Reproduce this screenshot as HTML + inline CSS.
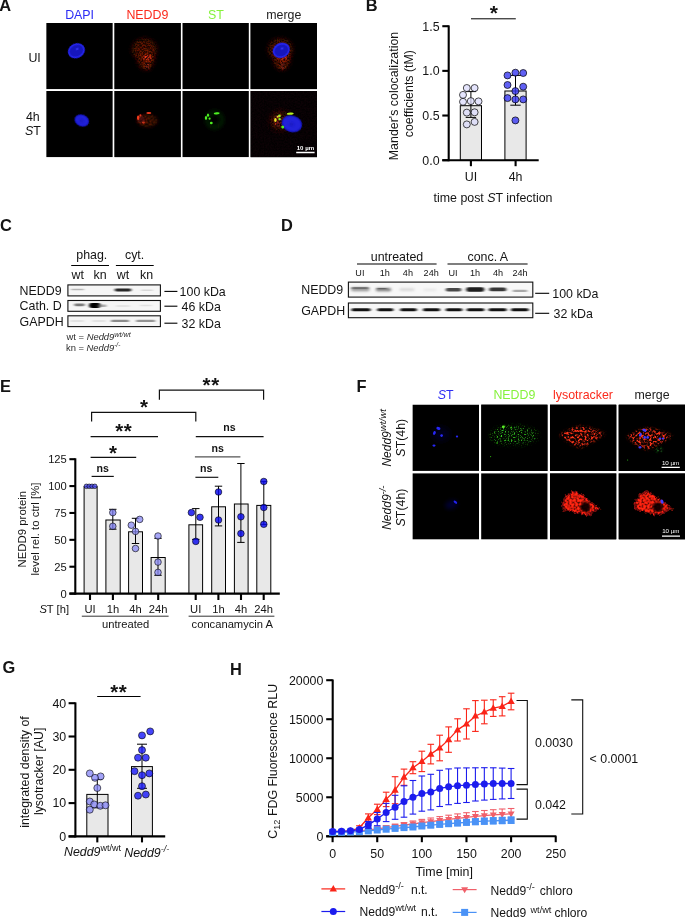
<!DOCTYPE html>
<html lang="en">
<head>
<meta charset="utf-8">
<title>Figure</title>
<style>
html,body{margin:0;padding:0;background:#fff;}
body{width:685px;height:918px;overflow:hidden;}
svg{display:block;font-family:"Liberation Sans",Arial,Helvetica,sans-serif;}
</style>
</head>
<body>
<svg width="685" height="918" viewBox="0 0 685 918">
<defs>
<filter id="b05" x="-30%" y="-30%" width="160%" height="160%"><feGaussianBlur stdDeviation="0.5"/></filter>
<filter id="b08" x="-30%" y="-30%" width="160%" height="160%"><feGaussianBlur stdDeviation="0.8"/></filter>
<filter id="b1" x="-40%" y="-40%" width="180%" height="180%"><feGaussianBlur stdDeviation="1.1"/></filter>
<filter id="b15" x="-40%" y="-40%" width="180%" height="180%"><feGaussianBlur stdDeviation="1.5"/></filter>
<filter id="b2" x="-50%" y="-50%" width="200%" height="200%"><feGaussianBlur stdDeviation="2"/></filter>
<filter id="b3" x="-60%" y="-60%" width="220%" height="220%"><feGaussianBlur stdDeviation="3.2"/></filter>
<filter id="b5" x="-80%" y="-80%" width="260%" height="260%"><feGaussianBlur stdDeviation="5"/></filter>
<filter id="bx" x="-20%" y="-120%" width="140%" height="340%"><feGaussianBlur stdDeviation="1.4 0.7"/></filter>
<filter id="bx2" x="-20%" y="-120%" width="140%" height="340%"><feGaussianBlur stdDeviation="1.7 1.0"/></filter>
<!-- fine grain: multiplies an opaque picture with contrast-stretched noise -->
<filter id="grain" x="0" y="0" width="100%" height="100%" color-interpolation-filters="sRGB">
  <feTurbulence type="fractalNoise" baseFrequency="0.62" numOctaves="2" seed="11" result="n"/>
  <feColorMatrix in="n" type="matrix" values="2.4 0 0 0 -0.7  2.4 0 0 0 -0.7  2.4 0 0 0 -0.7  0 0 0 0 1" result="m"/>
  <feComposite in="SourceGraphic" in2="m" operator="arithmetic" k1="1.5" k2="0.25" k3="0" k4="0" result="c"/>
  <feGaussianBlur in="c" stdDeviation="0.45"/>
</filter>
<!-- coarser grain: reticulated look -->
<filter id="grain2" x="0" y="0" width="100%" height="100%" color-interpolation-filters="sRGB">
  <feTurbulence type="fractalNoise" baseFrequency="0.46" numOctaves="2" seed="5" result="n"/>
  <feColorMatrix in="n" type="matrix" values="3.4 0 0 0 -1.5  3.4 0 0 0 -1.5  3.4 0 0 0 -1.5  0 0 0 0 1" result="m"/>
  <feComposite in="SourceGraphic" in2="m" operator="arithmetic" k1="1.9" k2="0.12" k3="0" k4="0" result="c"/>
  <feGaussianBlur in="c" stdDeviation="0.5"/>
</filter>
<!-- light grain -->
<filter id="grain3" x="0" y="0" width="100%" height="100%" color-interpolation-filters="sRGB">
  <feTurbulence type="fractalNoise" baseFrequency="0.5" numOctaves="2" seed="23" result="n"/>
  <feColorMatrix in="n" type="matrix" values="1.6 0 0 0 -0.3  1.6 0 0 0 -0.3  1.6 0 0 0 -0.3  0 0 0 0 1" result="m"/>
  <feComposite in="SourceGraphic" in2="m" operator="arithmetic" k1="1.5" k2="0.25" k3="0" k4="0" result="c"/>
  <feGaussianBlur in="c" stdDeviation="0.3"/>
</filter>
<!-- sparse specks -->
<filter id="grain4" x="0" y="0" width="100%" height="100%" color-interpolation-filters="sRGB">
  <feTurbulence type="fractalNoise" baseFrequency="0.7" numOctaves="2" seed="31" result="n"/>
  <feColorMatrix in="n" type="matrix" values="5 0 0 0 -2.62  5 0 0 0 -2.62  5 0 0 0 -2.62  0 0 0 0 1" result="m"/>
  <feComposite in="SourceGraphic" in2="m" operator="arithmetic" k1="1.9" k2="0.1" k3="0" k4="0" result="c"/>
  <feGaussianBlur in="c" stdDeviation="0.4"/>
</filter>
<!-- ragged edges -->
<filter id="rough" x="-30%" y="-30%" width="160%" height="160%">
  <feTurbulence type="fractalNoise" baseFrequency="0.28" numOctaves="2" seed="4" result="n"/>
  <feDisplacementMap in="SourceGraphic" in2="n" scale="7" xChannelSelector="R" yChannelSelector="G" result="d"/>
  <feGaussianBlur in="d" stdDeviation="0.7"/>
</filter>
</defs>

<rect x="0" y="0" width="685" height="918" fill="#ffffff"/>
<text x="-0.80" y="10.80" font-size="16.4" fill="#141414" font-weight="bold">A</text>
<text x="365.80" y="11.40" font-size="16.4" fill="#141414" font-weight="bold">B</text>
<text x="0.00" y="230.60" font-size="16.4" fill="#141414" font-weight="bold">C</text>
<text x="280.90" y="230.50" font-size="16.4" fill="#141414" font-weight="bold">D</text>
<text x="0.00" y="391.50" font-size="16.4" fill="#141414" font-weight="bold">E</text>
<text x="356.60" y="391.50" font-size="16.4" fill="#141414" font-weight="bold">F</text>
<text x="2.50" y="672.90" font-size="16.4" fill="#141414" font-weight="bold">G</text>
<text x="229.90" y="674.90" font-size="16.4" fill="#141414" font-weight="bold">H</text>
<g id="panelA">
<text x="79.60" y="19.20" font-size="12.4" text-anchor="middle" fill="#2b2bf5">DAPI</text>
<text x="147.40" y="19.20" font-size="12.4" text-anchor="middle" fill="#fb2a1c">NEDD9</text>
<text x="215.80" y="19.20" font-size="12.4" text-anchor="middle" fill="#86f23c">ST</text>
<text x="283.80" y="19.20" font-size="12.4" text-anchor="middle" fill="#222">merge</text>
<text x="40.80" y="61.70" font-size="12.4" text-anchor="end" fill="#141414">UI</text>
<text x="39.70" y="120.70" font-size="12.4" text-anchor="end" fill="#141414">4h</text>
<text x="40.80" y="134.70" font-size="12.4" text-anchor="end" fill="#141414"><tspan font-style="italic">S</tspan>T</text>
<clipPath id="cl1"><rect x="46.20" y="22.90" width="66.60" height="66.40"/></clipPath>
<g clip-path="url(#cl1)">
<rect x="46.20" y="22.90" width="66.60" height="66.40" fill="#000" />
<ellipse cx="76.40" cy="50.80" rx="8.7" ry="7.3" fill="#1515bc" transform="rotate(-25 76.40 50.80)" filter="url(#b05)"/>
<ellipse cx="76.40" cy="50.80" rx="7.799999999999999" ry="6.3999999999999995" fill="none" stroke="#2828f4" stroke-width="1.3" transform="rotate(-25 76.40 50.80)" filter="url(#b05)"/>
<ellipse cx="77.20" cy="49.00" rx="1.6" ry="1.0" fill="#3a3aff" transform="rotate(-25 77.20 49.00)" filter="url(#b05)" opacity="0.8"/>
</g>
<clipPath id="cl2"><rect x="114.30" y="22.90" width="66.60" height="66.40"/></clipPath>
<g clip-path="url(#cl2)">
<g filter="url(#grain)">
<rect x="114.30" y="22.90" width="66.60" height="66.40" fill="#000" />
<ellipse cx="144.40" cy="49.50" rx="12.5" ry="11.0" fill="#3a0b05" filter="url(#b2)"/>
<ellipse cx="145.80" cy="59.00" rx="8.5" ry="11.0" fill="#420d06" filter="url(#b2)"/>
<ellipse cx="147.40" cy="57.50" rx="5.0" ry="2.6" fill="#9a200e" filter="url(#b15)"/>
<ellipse cx="146.90" cy="65.50" rx="2.6" ry="4.0" fill="#5a140a" filter="url(#b15)"/>
</g>
</g>
<clipPath id="cl3"><rect x="182.30" y="22.90" width="66.60" height="66.40"/></clipPath>
<g clip-path="url(#cl3)">
<rect x="182.30" y="22.90" width="66.60" height="66.40" fill="#000" />
</g>
<clipPath id="cl4"><rect x="250.40" y="22.90" width="66.60" height="66.40"/></clipPath>
<g clip-path="url(#cl4)">
<g filter="url(#grain)">
<rect x="250.40" y="22.90" width="66.60" height="66.40" fill="#000" />
<ellipse cx="280.40" cy="49.50" rx="12.5" ry="11.0" fill="#3a0b05" filter="url(#b2)"/>
<ellipse cx="281.80" cy="59.00" rx="8.5" ry="11.0" fill="#420d06" filter="url(#b2)"/>
<ellipse cx="283.40" cy="57.50" rx="5.0" ry="2.6" fill="#9a200e" filter="url(#b15)"/>
<ellipse cx="282.90" cy="65.50" rx="2.6" ry="4.0" fill="#5a140a" filter="url(#b15)"/>
</g>
<ellipse cx="281.30" cy="50.40" rx="8.7" ry="7.3" fill="#1515bc" transform="rotate(-25 281.30 50.40)" filter="url(#b05)"/>
<ellipse cx="281.30" cy="50.40" rx="7.799999999999999" ry="6.3999999999999995" fill="none" stroke="#2828f4" stroke-width="1.3" transform="rotate(-25 281.30 50.40)" filter="url(#b05)"/>
<ellipse cx="282.10" cy="48.60" rx="1.6" ry="1.0" fill="#3a3aff" transform="rotate(-25 282.10 48.60)" filter="url(#b05)" opacity="0.8"/>
</g>
<clipPath id="cl5"><rect x="46.20" y="90.90" width="66.60" height="66.40"/></clipPath>
<g clip-path="url(#cl5)">
<rect x="46.20" y="90.90" width="66.60" height="66.40" fill="#000" />
<ellipse cx="81.80" cy="120.50" rx="7.5" ry="6.1" fill="#1515bc" transform="rotate(22 81.80 120.50)" filter="url(#b05)"/>
<ellipse cx="81.80" cy="120.50" rx="6.2" ry="4.8" fill="#2020d8" transform="rotate(22 81.80 120.50)" filter="url(#b05)"/>
<ellipse cx="81.30" cy="120.90" rx="2.4" ry="1.6" fill="#1a1ab8" transform="rotate(22 81.30 120.90)" filter="url(#b08)" opacity="0.8"/>
</g>
<clipPath id="cl6"><rect x="114.30" y="90.90" width="66.60" height="66.40"/></clipPath>
<g clip-path="url(#cl6)">
<g filter="url(#grain3)">
<rect x="114.30" y="90.90" width="66.60" height="66.40" fill="#000" />
<ellipse cx="147.40" cy="120.60" rx="10.5" ry="6.6" fill="#300a06" filter="url(#b15)"/>
<ellipse cx="141.50" cy="119.50" rx="4.0" ry="3.6" fill="#4c100a" filter="url(#b15)"/>
</g>
<g filter="url(#b05)">
<ellipse cx="138.20" cy="117.80" rx="1.3" ry="2.3" fill="#f03a1c" />
<ellipse cx="140.40" cy="115.40" rx="1.1" ry="1.1" fill="#e0341a" />
<ellipse cx="148.80" cy="112.90" rx="2.5" ry="1.0" fill="#f23c1e" />
<ellipse cx="143.40" cy="122.60" rx="1.5" ry="1.1" fill="#c83018" />
</g>
</g>
<clipPath id="cl7"><rect x="182.30" y="90.90" width="66.60" height="66.40"/></clipPath>
<g clip-path="url(#cl7)">
<rect x="182.30" y="90.90" width="66.60" height="66.40" fill="#000" />
<circle cx="214.6" cy="119.8" r="7.5" fill="none" stroke="#092a05" stroke-width="3.0" filter="url(#b2)"/>
<g filter="url(#b05)">
<ellipse cx="216.70" cy="113.30" rx="3.0" ry="1.1" fill="#4ef020" transform="rotate(-5 216.70 113.30)" />
<ellipse cx="208.00" cy="115.20" rx="1.1" ry="1.6" fill="#4ef020" />
<ellipse cx="206.00" cy="117.90" rx="1.2" ry="1.9" fill="#4ef020" />
<ellipse cx="209.60" cy="118.60" rx="1.0" ry="1.2" fill="#4ef020" />
<ellipse cx="211.30" cy="123.00" rx="1.4" ry="1.3" fill="#4ef020" />
</g>
</g>
<clipPath id="cl8"><rect x="250.40" y="90.90" width="66.60" height="66.40"/></clipPath>
<g clip-path="url(#cl8)">
<g filter="url(#grain)">
<rect x="250.40" y="90.90" width="66.60" height="66.40" fill="#000" />
<rect x="250.40" y="90.90" width="66.60" height="66.40" fill="#070103" />
<ellipse cx="281.00" cy="121.00" rx="11" ry="10" fill="#2a0805" filter="url(#b3)"/>
<ellipse cx="278.00" cy="120.50" rx="5" ry="7" fill="#4a1008" filter="url(#b2)"/>
</g>
<ellipse cx="291.90" cy="123.80" rx="10.5" ry="8.4" fill="#1515bc" transform="rotate(18 291.90 123.80)" filter="url(#b05)"/>
<ellipse cx="291.90" cy="123.80" rx="9.2" ry="7.1000000000000005" fill="#2020d8" transform="rotate(18 291.90 123.80)" filter="url(#b05)"/>
<ellipse cx="291.40" cy="124.20" rx="2.4" ry="1.6" fill="#1a1ab8" transform="rotate(18 291.40 124.20)" filter="url(#b08)" opacity="0.8"/>
<g filter="url(#b05)">
<ellipse cx="290.30" cy="113.70" rx="3.4" ry="1.1" fill="#b4f020" transform="rotate(-3 290.30 113.70)" />
<ellipse cx="275.40" cy="119.90" rx="1.3" ry="2.0" fill="#f0e020" />
<ellipse cx="279.40" cy="115.90" rx="1.4" ry="1.4" fill="#a0e828" />
<ellipse cx="277.60" cy="116.80" rx="1.0" ry="1.0" fill="#e8d020" />
<ellipse cx="279.60" cy="119.20" rx="1.3" ry="1.1" fill="#80f028" />
<ellipse cx="282.70" cy="127.10" rx="1.5" ry="1.5" fill="#50f020" />
<ellipse cx="275.40" cy="124.00" rx="0.8" ry="0.8" fill="#e03018" />
</g>
<line x1="296.20" y1="152.50" x2="314.60" y2="152.50" stroke="#fff" stroke-width="1.3" />
<text x="305.40" y="149.70" font-size="6.1" text-anchor="middle" fill="#fff" font-weight="bold">10 µm</text>
</g>
</g>
<g id="panelB">
<rect x="460.30" y="105.70" width="21.20" height="54.50" fill="#e8e8e8" stroke="#000" stroke-width="1.0" />
<rect x="504.90" y="91.00" width="21.20" height="69.20" fill="#e8e8e8" stroke="#000" stroke-width="1.0" />
<line x1="448.70" y1="25.40" x2="448.70" y2="161.25" stroke="#000" stroke-width="2.1" />
<line x1="442.30" y1="160.20" x2="538.70" y2="160.20" stroke="#000" stroke-width="2.1" />
<line x1="442.30" y1="160.20" x2="448.70" y2="160.20" stroke="#000" stroke-width="2.1" />
<text x="439.60" y="164.50" font-size="12.4" text-anchor="end" fill="#141414">0.0</text>
<line x1="442.30" y1="115.53" x2="448.70" y2="115.53" stroke="#000" stroke-width="2.1" />
<text x="439.60" y="119.83" font-size="12.4" text-anchor="end" fill="#141414">0.5</text>
<line x1="442.30" y1="70.87" x2="448.70" y2="70.87" stroke="#000" stroke-width="2.1" />
<text x="439.60" y="75.17" font-size="12.4" text-anchor="end" fill="#141414">1.0</text>
<line x1="442.30" y1="26.20" x2="448.70" y2="26.20" stroke="#000" stroke-width="2.1" />
<text x="439.60" y="30.50" font-size="12.4" text-anchor="end" fill="#141414">1.5</text>
<line x1="470.90" y1="160.20" x2="470.90" y2="166.20" stroke="#000" stroke-width="2.1" />
<text x="470.90" y="180.50" font-size="12.4" text-anchor="middle" fill="#141414">UI</text>
<line x1="515.60" y1="160.20" x2="515.60" y2="166.20" stroke="#000" stroke-width="2.1" />
<text x="515.60" y="180.50" font-size="12.4" text-anchor="middle" fill="#141414">4h</text>
<text x="493.00" y="202.00" font-size="12.4" text-anchor="middle" fill="#141414">time post <tspan font-style="italic">S</tspan>T infection</text>
<text x="398.40" y="96.00" font-size="12.4" text-anchor="middle" fill="#141414" transform="rotate(-90 398.40 96.00)">Mander's colocalization</text>
<text x="413.20" y="93.60" font-size="12.4" text-anchor="middle" fill="#141414" transform="rotate(-90 413.20 93.60)">coefficients (tM)</text>
<line x1="470.90" y1="91.60" x2="470.90" y2="117.40" stroke="#000" stroke-width="1.0" />
<line x1="465.70" y1="91.60" x2="476.10" y2="91.60" stroke="#000" stroke-width="1.0" />
<line x1="465.70" y1="117.40" x2="476.10" y2="117.40" stroke="#000" stroke-width="1.0" />
<line x1="515.50" y1="75.40" x2="515.50" y2="105.20" stroke="#000" stroke-width="1.0" />
<line x1="510.30" y1="75.40" x2="520.70" y2="75.40" stroke="#000" stroke-width="1.0" />
<line x1="510.30" y1="105.20" x2="520.70" y2="105.20" stroke="#000" stroke-width="1.0" />
<circle cx="466.80" cy="88.00" r="3.5" fill="#dbdbfb" stroke="#000" stroke-width="0.7" fill-opacity="0.75"/>
<circle cx="474.60" cy="88.00" r="3.5" fill="#dbdbfb" stroke="#000" stroke-width="0.7" fill-opacity="0.75"/>
<circle cx="463.00" cy="94.90" r="3.5" fill="#dbdbfb" stroke="#000" stroke-width="0.7" fill-opacity="0.75"/>
<circle cx="463.00" cy="101.80" r="3.5" fill="#dbdbfb" stroke="#000" stroke-width="0.7" fill-opacity="0.75"/>
<circle cx="470.80" cy="101.10" r="3.5" fill="#dbdbfb" stroke="#000" stroke-width="0.7" fill-opacity="0.75"/>
<circle cx="478.50" cy="101.40" r="3.5" fill="#dbdbfb" stroke="#000" stroke-width="0.7" fill-opacity="0.75"/>
<circle cx="466.80" cy="112.60" r="3.5" fill="#dbdbfb" stroke="#000" stroke-width="0.7" fill-opacity="0.75"/>
<circle cx="474.60" cy="112.30" r="3.5" fill="#dbdbfb" stroke="#000" stroke-width="0.7" fill-opacity="0.75"/>
<circle cx="474.60" cy="121.90" r="3.5" fill="#dbdbfb" stroke="#000" stroke-width="0.7" fill-opacity="0.75"/>
<circle cx="466.80" cy="124.40" r="3.5" fill="#dbdbfb" stroke="#000" stroke-width="0.7" fill-opacity="0.75"/>
<circle cx="507.50" cy="75.40" r="3.5" fill="#3838f1" stroke="#000" stroke-width="0.7" fill-opacity="0.8"/>
<circle cx="515.40" cy="72.70" r="3.5" fill="#3838f1" stroke="#000" stroke-width="0.7" fill-opacity="0.8"/>
<circle cx="523.20" cy="73.00" r="3.5" fill="#3838f1" stroke="#000" stroke-width="0.7" fill-opacity="0.8"/>
<circle cx="507.50" cy="85.00" r="3.5" fill="#3838f1" stroke="#000" stroke-width="0.7" fill-opacity="0.8"/>
<circle cx="523.20" cy="86.70" r="3.5" fill="#3838f1" stroke="#000" stroke-width="0.7" fill-opacity="0.8"/>
<circle cx="515.40" cy="91.10" r="3.5" fill="#3838f1" stroke="#000" stroke-width="0.7" fill-opacity="0.8"/>
<circle cx="507.50" cy="98.10" r="3.5" fill="#3838f1" stroke="#000" stroke-width="0.7" fill-opacity="0.8"/>
<circle cx="515.40" cy="99.40" r="3.5" fill="#3838f1" stroke="#000" stroke-width="0.7" fill-opacity="0.8"/>
<circle cx="523.20" cy="99.40" r="3.5" fill="#3838f1" stroke="#000" stroke-width="0.7" fill-opacity="0.8"/>
<circle cx="515.40" cy="120.40" r="3.5" fill="#3838f1" stroke="#000" stroke-width="0.7" fill-opacity="0.8"/>
<line x1="471.00" y1="18.80" x2="515.80" y2="18.80" stroke="#000" stroke-width="1.0" />
<text x="493.80" y="20.40" font-size="21" text-anchor="middle" fill="#141414" font-weight="bold">*</text>
</g>
<g id="panelC">
<text x="91.80" y="259.00" font-size="12.4" text-anchor="middle" fill="#141414">phag.</text>
<text x="134.60" y="259.00" font-size="12.4" text-anchor="middle" fill="#141414">cyt.</text>
<line x1="71.20" y1="265.50" x2="109.00" y2="265.50" stroke="#000" stroke-width="1.2" />
<line x1="115.90" y1="265.50" x2="153.70" y2="265.50" stroke="#000" stroke-width="1.2" />
<text x="77.80" y="279.00" font-size="12.4" text-anchor="middle" fill="#141414">wt</text>
<text x="100.10" y="279.00" font-size="12.4" text-anchor="middle" fill="#141414">kn</text>
<text x="122.90" y="279.00" font-size="12.4" text-anchor="middle" fill="#141414">wt</text>
<text x="146.60" y="279.00" font-size="12.4" text-anchor="middle" fill="#141414">kn</text>
<text x="19.60" y="294.70" font-size="12.4" fill="#141414">NEDD9</text>
<text x="19.60" y="310.00" font-size="12.4" fill="#141414">Cath. D</text>
<text x="19.60" y="325.80" font-size="12.4" fill="#141414">GAPDH</text>
<rect x="67.90" y="284.90" width="92.50" height="11.00" fill="#f6f6f6" stroke="#111" stroke-width="1.1" />
<rect x="67.90" y="300.50" width="92.50" height="10.80" fill="#f6f6f6" stroke="#111" stroke-width="1.1" />
<rect x="67.90" y="315.80" width="92.50" height="10.80" fill="#f6f6f6" stroke="#111" stroke-width="1.1" />
<rect x="71.00" y="288.70" width="13.00" height="1.60" rx="0.80" fill="#9a9a9a" opacity="0.7" filter="url(#bx)"/>
<rect x="114.75" y="288.60" width="16.50" height="2.80" rx="1.40" fill="#1c1c1c" opacity="0.95" filter="url(#bx)"/>
<rect x="141.00" y="289.50" width="12.00" height="1.40" rx="0.70" fill="#bbb" opacity="0.5" filter="url(#bx)"/>
<rect x="74.25" y="303.40" width="10.50" height="2.80" rx="1.40" fill="#5a5a5a" opacity="0.8" filter="url(#bx)"/>
<rect x="89.05" y="303.10" width="11.50" height="4.80" rx="2.40" fill="#000" opacity="1.0" filter="url(#bx)"/>
<rect x="97.50" y="304.60" width="9.00" height="2.40" rx="1.20" fill="#777" opacity="0.6" filter="url(#bx)"/>
<rect x="116.00" y="305.25" width="14.00" height="1.50" rx="0.75" fill="#ccc" opacity="0.5" filter="url(#bx)"/>
<rect x="140.00" y="304.75" width="12.00" height="1.50" rx="0.75" fill="#ccc" opacity="0.5" filter="url(#bx)"/>
<rect x="70.00" y="320.35" width="14.00" height="1.30" rx="0.65" fill="#c4c4c4" opacity="0.5" filter="url(#bx)"/>
<rect x="92.00" y="320.35" width="14.00" height="1.30" rx="0.65" fill="#c4c4c4" opacity="0.5" filter="url(#bx)"/>
<rect x="111.00" y="319.70" width="18.00" height="2.40" rx="1.20" fill="#787878" opacity="0.85" filter="url(#bx)"/>
<rect x="136.10" y="319.70" width="19.00" height="2.40" rx="1.20" fill="#828282" opacity="0.85" filter="url(#bx)"/>
<line x1="164.40" y1="291.40" x2="177.40" y2="291.40" stroke="#000" stroke-width="1.1" />
<text x="179.60" y="295.80" font-size="12.4" fill="#141414">100 kDa</text>
<line x1="164.40" y1="306.20" x2="177.40" y2="306.20" stroke="#000" stroke-width="1.1" />
<text x="181.60" y="310.60" font-size="12.4" fill="#141414">46 kDa</text>
<line x1="164.40" y1="323.20" x2="177.40" y2="323.20" stroke="#000" stroke-width="1.1" />
<text x="181.60" y="328.20" font-size="12.4" fill="#141414">32 kDa</text>
<text x="66.60" y="340.40" font-size="9.4" fill="#2a2a2a">wt = <tspan font-style="italic">Nedd9</tspan><tspan font-size="7.2" dy="-3.4" font-style="italic">wt/wt</tspan></text>
<text x="66.00" y="350.60" font-size="9.4" fill="#2a2a2a">kn = <tspan font-style="italic">Nedd9</tspan><tspan font-size="6.4" dy="-3.4" font-style="italic">-/-</tspan></text>
</g>
<g id="panelD">
<text x="397.00" y="260.60" font-size="12.4" text-anchor="middle" fill="#141414">untreated</text>
<text x="487.80" y="260.60" font-size="12.4" text-anchor="middle" fill="#141414">conc. A</text>
<line x1="357.00" y1="264.00" x2="436.60" y2="264.00" stroke="#000" stroke-width="1.2" />
<line x1="447.50" y1="264.00" x2="527.60" y2="264.00" stroke="#000" stroke-width="1.2" />
<text x="359.90" y="276.30" font-size="9.1" text-anchor="middle" fill="#141414">UI</text>
<text x="384.70" y="276.30" font-size="9.1" text-anchor="middle" fill="#141414">1h</text>
<text x="407.90" y="276.30" font-size="9.1" text-anchor="middle" fill="#141414">4h</text>
<text x="431.20" y="276.30" font-size="9.1" text-anchor="middle" fill="#141414">24h</text>
<text x="453.00" y="276.30" font-size="9.1" text-anchor="middle" fill="#141414">UI</text>
<text x="475.00" y="276.30" font-size="9.1" text-anchor="middle" fill="#141414">1h</text>
<text x="498.10" y="276.30" font-size="9.1" text-anchor="middle" fill="#141414">4h</text>
<text x="520.10" y="276.30" font-size="9.1" text-anchor="middle" fill="#141414">24h</text>
<text x="301.20" y="294.00" font-size="12.4" fill="#141414">NEDD9</text>
<text x="301.20" y="315.10" font-size="12.4" fill="#141414">GAPDH</text>
<rect x="348.40" y="282.10" width="184.40" height="15.00" fill="#f7f7f7" stroke="#111" stroke-width="1.1" />
<rect x="348.40" y="303.00" width="184.40" height="14.70" fill="#f7f7f7" stroke="#111" stroke-width="1.1" />
<rect x="351.05" y="287.30" width="18.50" height="4.00" rx="2.00" fill="#8a8a8a" opacity="0.85" filter="url(#bx2)"/>
<rect x="351.50" y="287.25" width="17.00" height="1.50" rx="0.75" fill="#4a4a4a" opacity="0.8" filter="url(#bx)"/>
<rect x="375.75" y="287.90" width="15.50" height="3.40" rx="1.70" fill="#6a6a6a" opacity="0.85" filter="url(#bx2)"/>
<rect x="377.00" y="287.90" width="10.00" height="1.40" rx="0.70" fill="#444" opacity="0.7" filter="url(#bx)"/>
<rect x="399.50" y="288.30" width="15.00" height="2.60" rx="1.30" fill="#c4c4c4" opacity="0.6" filter="url(#bx2)"/>
<rect x="423.50" y="288.70" width="13.00" height="2.20" rx="1.10" fill="#d4d4d4" opacity="0.5" filter="url(#bx2)"/>
<rect x="445.75" y="288.00" width="15.50" height="3.60" rx="1.80" fill="#3a3a3a" opacity="0.92" filter="url(#bx)"/>
<rect x="466.20" y="287.30" width="18.00" height="4.40" rx="2.20" fill="#141414" opacity="0.97" filter="url(#bx)"/>
<rect x="489.30" y="287.50" width="17.00" height="3.80" rx="1.90" fill="#2a2a2a" opacity="0.93" filter="url(#bx)"/>
<rect x="512.75" y="289.80" width="14.50" height="2.20" rx="1.10" fill="#8e8e8e" opacity="0.75" filter="url(#bx)"/>
<rect x="351.50" y="308.20" width="19.00" height="3.00" rx="1.50" fill="#0a0a0a" opacity="0.98" filter="url(#bx)"/>
<rect x="377.30" y="308.20" width="16.00" height="3.00" rx="1.50" fill="#0a0a0a" opacity="0.98" filter="url(#bx)"/>
<rect x="400.25" y="308.20" width="16.50" height="3.00" rx="1.50" fill="#0a0a0a" opacity="0.98" filter="url(#bx)"/>
<rect x="423.00" y="308.20" width="17.00" height="3.00" rx="1.50" fill="#0a0a0a" opacity="0.98" filter="url(#bx)"/>
<rect x="445.75" y="308.20" width="16.50" height="3.00" rx="1.50" fill="#0a0a0a" opacity="0.98" filter="url(#bx)"/>
<rect x="466.75" y="308.20" width="17.50" height="3.00" rx="1.50" fill="#0a0a0a" opacity="0.98" filter="url(#bx)"/>
<rect x="488.60" y="308.20" width="18.00" height="3.00" rx="1.50" fill="#0a0a0a" opacity="0.98" filter="url(#bx)"/>
<rect x="511.05" y="308.20" width="17.50" height="3.00" rx="1.50" fill="#0a0a0a" opacity="0.98" filter="url(#bx)"/>
<line x1="535.20" y1="293.30" x2="549.20" y2="293.30" stroke="#000" stroke-width="1.1" />
<text x="552.30" y="297.70" font-size="12.4" fill="#141414">100 kDa</text>
<line x1="535.20" y1="313.30" x2="549.20" y2="313.30" stroke="#000" stroke-width="1.1" />
<text x="553.60" y="317.70" font-size="12.4" fill="#141414">32 kDa</text>
</g>
<g id="panelE">
<rect x="84.10" y="486.70" width="13.00" height="106.90" fill="#e8e8e8" stroke="#000" stroke-width="1.0" />
<rect x="105.90" y="520.00" width="14.30" height="73.60" fill="#e8e8e8" stroke="#000" stroke-width="1.0" />
<rect x="128.60" y="531.80" width="13.90" height="61.80" fill="#e8e8e8" stroke="#000" stroke-width="1.0" />
<rect x="151.10" y="557.50" width="14.10" height="36.10" fill="#e8e8e8" stroke="#000" stroke-width="1.0" />
<rect x="188.90" y="524.80" width="13.70" height="68.80" fill="#e8e8e8" stroke="#000" stroke-width="1.0" />
<rect x="211.70" y="506.80" width="13.80" height="86.80" fill="#e8e8e8" stroke="#000" stroke-width="1.0" />
<rect x="234.40" y="504.00" width="13.70" height="89.60" fill="#e8e8e8" stroke="#000" stroke-width="1.0" />
<rect x="256.80" y="505.40" width="14.00" height="88.20" fill="#e8e8e8" stroke="#000" stroke-width="1.0" />
<line x1="75.30" y1="458.30" x2="75.30" y2="594.65" stroke="#000" stroke-width="2.1" />
<line x1="69.40" y1="593.60" x2="279.80" y2="593.60" stroke="#000" stroke-width="2.1" />
<line x1="69.40" y1="593.60" x2="75.30" y2="593.60" stroke="#000" stroke-width="2.1" />
<text x="66.80" y="597.50" font-size="11.2" text-anchor="end" fill="#141414">0</text>
<line x1="69.40" y1="566.72" x2="75.30" y2="566.72" stroke="#000" stroke-width="2.1" />
<text x="66.80" y="570.62" font-size="11.2" text-anchor="end" fill="#141414">25</text>
<line x1="69.40" y1="539.84" x2="75.30" y2="539.84" stroke="#000" stroke-width="2.1" />
<text x="66.80" y="543.74" font-size="11.2" text-anchor="end" fill="#141414">50</text>
<line x1="69.40" y1="512.96" x2="75.30" y2="512.96" stroke="#000" stroke-width="2.1" />
<text x="66.80" y="516.86" font-size="11.2" text-anchor="end" fill="#141414">75</text>
<line x1="69.40" y1="486.08" x2="75.30" y2="486.08" stroke="#000" stroke-width="2.1" />
<text x="66.80" y="489.98" font-size="11.2" text-anchor="end" fill="#141414">100</text>
<line x1="69.40" y1="459.20" x2="75.30" y2="459.20" stroke="#000" stroke-width="2.1" />
<text x="66.80" y="463.10" font-size="11.2" text-anchor="end" fill="#141414">125</text>
<line x1="90.00" y1="593.60" x2="90.00" y2="600.00" stroke="#000" stroke-width="2.1" />
<text x="90.00" y="613.00" font-size="11.2" text-anchor="middle" fill="#141414">UI</text>
<line x1="112.90" y1="593.60" x2="112.90" y2="600.00" stroke="#000" stroke-width="2.1" />
<text x="112.90" y="613.00" font-size="11.2" text-anchor="middle" fill="#141414">1h</text>
<line x1="135.60" y1="593.60" x2="135.60" y2="600.00" stroke="#000" stroke-width="2.1" />
<text x="135.60" y="613.00" font-size="11.2" text-anchor="middle" fill="#141414">4h</text>
<line x1="158.20" y1="593.60" x2="158.20" y2="600.00" stroke="#000" stroke-width="2.1" />
<text x="158.20" y="613.00" font-size="11.2" text-anchor="middle" fill="#141414">24h</text>
<line x1="195.70" y1="593.60" x2="195.70" y2="600.00" stroke="#000" stroke-width="2.1" />
<text x="195.70" y="613.00" font-size="11.2" text-anchor="middle" fill="#141414">UI</text>
<line x1="218.40" y1="593.60" x2="218.40" y2="600.00" stroke="#000" stroke-width="2.1" />
<text x="218.40" y="613.00" font-size="11.2" text-anchor="middle" fill="#141414">1h</text>
<line x1="241.00" y1="593.60" x2="241.00" y2="600.00" stroke="#000" stroke-width="2.1" />
<text x="241.00" y="613.00" font-size="11.2" text-anchor="middle" fill="#141414">4h</text>
<line x1="263.70" y1="593.60" x2="263.70" y2="600.00" stroke="#000" stroke-width="2.1" />
<text x="263.70" y="613.00" font-size="11.2" text-anchor="middle" fill="#141414">24h</text>
<text x="39.40" y="613.00" font-size="11.2" fill="#141414"><tspan font-style="italic">S</tspan>T [h]</text>
<line x1="81.80" y1="616.20" x2="168.60" y2="616.20" stroke="#333" stroke-width="1.0" />
<line x1="188.60" y1="616.20" x2="274.40" y2="616.20" stroke="#333" stroke-width="1.0" />
<text x="125.60" y="627.80" font-size="11.2" text-anchor="middle" fill="#141414">untreated</text>
<text x="232.30" y="628.00" font-size="11.2" text-anchor="middle" fill="#141414">concanamycin A</text>
<text x="25.70" y="529.20" font-size="11.4" text-anchor="middle" fill="#141414" transform="rotate(-90 25.70 529.20)">NEDD9 protein</text>
<text x="38.70" y="529.00" font-size="11.4" text-anchor="middle" fill="#141414" transform="rotate(-90 38.70 529.00)">level rel. to ctrl [%]</text>
<line x1="112.80" y1="509.30" x2="112.80" y2="529.20" stroke="#000" stroke-width="1.0" />
<line x1="109.10" y1="509.30" x2="116.50" y2="509.30" stroke="#000" stroke-width="1.0" />
<line x1="109.10" y1="529.20" x2="116.50" y2="529.20" stroke="#000" stroke-width="1.0" />
<line x1="135.50" y1="518.30" x2="135.50" y2="543.50" stroke="#000" stroke-width="1.0" />
<line x1="131.80" y1="518.30" x2="139.20" y2="518.30" stroke="#000" stroke-width="1.0" />
<line x1="131.80" y1="543.50" x2="139.20" y2="543.50" stroke="#000" stroke-width="1.0" />
<line x1="158.00" y1="538.30" x2="158.00" y2="575.30" stroke="#000" stroke-width="1.0" />
<line x1="154.30" y1="538.30" x2="161.70" y2="538.30" stroke="#000" stroke-width="1.0" />
<line x1="154.30" y1="575.30" x2="161.70" y2="575.30" stroke="#000" stroke-width="1.0" />
<line x1="195.80" y1="508.60" x2="195.80" y2="539.40" stroke="#000" stroke-width="1.0" />
<line x1="192.10" y1="508.60" x2="199.50" y2="508.60" stroke="#000" stroke-width="1.0" />
<line x1="192.10" y1="539.40" x2="199.50" y2="539.40" stroke="#000" stroke-width="1.0" />
<line x1="218.50" y1="486.20" x2="218.50" y2="525.90" stroke="#000" stroke-width="1.0" />
<line x1="214.80" y1="486.20" x2="222.20" y2="486.20" stroke="#000" stroke-width="1.0" />
<line x1="214.80" y1="525.90" x2="222.20" y2="525.90" stroke="#000" stroke-width="1.0" />
<line x1="240.90" y1="463.50" x2="240.90" y2="542.40" stroke="#000" stroke-width="1.0" />
<line x1="237.20" y1="463.50" x2="244.60" y2="463.50" stroke="#000" stroke-width="1.0" />
<line x1="237.20" y1="542.40" x2="244.60" y2="542.40" stroke="#000" stroke-width="1.0" />
<line x1="263.80" y1="481.60" x2="263.80" y2="524.60" stroke="#000" stroke-width="1.0" />
<line x1="260.80" y1="481.60" x2="266.80" y2="481.60" stroke="#000" stroke-width="1.0" />
<line x1="260.80" y1="524.60" x2="266.80" y2="524.60" stroke="#000" stroke-width="1.0" />
<circle cx="86.40" cy="486.30" r="2.3" fill="#4848ee" stroke="#000" stroke-width="0.6" fill-opacity="0.8"/>
<circle cx="89.20" cy="486.30" r="2.3" fill="#4848ee" stroke="#000" stroke-width="0.6" fill-opacity="0.8"/>
<circle cx="92.00" cy="486.30" r="2.3" fill="#4848ee" stroke="#000" stroke-width="0.6" fill-opacity="0.8"/>
<circle cx="94.80" cy="486.30" r="2.3" fill="#4848ee" stroke="#000" stroke-width="0.6" fill-opacity="0.8"/>
<circle cx="112.80" cy="512.60" r="3.3" fill="#7a7aee" stroke="#000" stroke-width="0.6" fill-opacity="0.75"/>
<circle cx="112.80" cy="526.30" r="3.3" fill="#7a7aee" stroke="#000" stroke-width="0.6" fill-opacity="0.75"/>
<circle cx="139.70" cy="519.40" r="3.3" fill="#8888f3" stroke="#000" stroke-width="0.6" fill-opacity="0.75"/>
<circle cx="131.30" cy="525.20" r="3.3" fill="#8888f3" stroke="#000" stroke-width="0.6" fill-opacity="0.75"/>
<circle cx="135.50" cy="531.40" r="3.3" fill="#8888f3" stroke="#000" stroke-width="0.6" fill-opacity="0.75"/>
<circle cx="135.50" cy="548.50" r="3.3" fill="#8888f3" stroke="#000" stroke-width="0.6" fill-opacity="0.75"/>
<circle cx="158.00" cy="536.00" r="3.3" fill="#8a8af5" stroke="#000" stroke-width="0.6" fill-opacity="0.75"/>
<circle cx="158.00" cy="562.10" r="3.3" fill="#8a8af5" stroke="#000" stroke-width="0.6" fill-opacity="0.75"/>
<circle cx="158.00" cy="572.40" r="3.3" fill="#8a8af5" stroke="#000" stroke-width="0.6" fill-opacity="0.75"/>
<circle cx="191.40" cy="512.60" r="3.3" fill="#0808ee" stroke="#000" stroke-width="0.6" fill-opacity="0.82"/>
<circle cx="200.00" cy="517.30" r="3.3" fill="#0808ee" stroke="#000" stroke-width="0.6" fill-opacity="0.82"/>
<circle cx="195.80" cy="541.40" r="3.3" fill="#0808ee" stroke="#000" stroke-width="0.6" fill-opacity="0.82"/>
<circle cx="218.50" cy="492.00" r="3.3" fill="#0808ee" stroke="#000" stroke-width="0.6" fill-opacity="0.82"/>
<circle cx="218.50" cy="520.00" r="3.3" fill="#0808ee" stroke="#000" stroke-width="0.6" fill-opacity="0.82"/>
<circle cx="240.90" cy="516.80" r="3.3" fill="#0808ee" stroke="#000" stroke-width="0.6" fill-opacity="0.82"/>
<circle cx="240.90" cy="533.60" r="3.3" fill="#0808ee" stroke="#000" stroke-width="0.6" fill-opacity="0.82"/>
<circle cx="263.80" cy="481.50" r="3.3" fill="#0808ee" stroke="#000" stroke-width="0.6" fill-opacity="0.82"/>
<circle cx="263.80" cy="507.50" r="3.3" fill="#0808ee" stroke="#000" stroke-width="0.6" fill-opacity="0.82"/>
<circle cx="263.80" cy="524.30" r="3.3" fill="#0808ee" stroke="#000" stroke-width="0.6" fill-opacity="0.82"/>
<line x1="91.60" y1="476.40" x2="113.80" y2="476.40" stroke="#111" stroke-width="1.15" />
<text x="102.80" y="471.60" font-size="10.6" text-anchor="middle" fill="#141414" font-weight="bold">ns</text>
<line x1="90.60" y1="457.40" x2="136.20" y2="457.40" stroke="#111" stroke-width="1.15" />
<text x="113.30" y="460.00" font-size="20.5" text-anchor="middle" fill="#141414" font-weight="bold" letter-spacing="0.6">*</text>
<line x1="90.60" y1="436.60" x2="158.00" y2="436.60" stroke="#111" stroke-width="1.15" />
<text x="123.80" y="438.40" font-size="20.5" text-anchor="middle" fill="#141414" font-weight="bold" letter-spacing="0.6">**</text>
<path d="M91.6 421.4 V412.3 H195.8 V421.4" fill="none" stroke="#111" stroke-width="1.2"/>
<text x="144.40" y="413.60" font-size="20.5" text-anchor="middle" fill="#141414" font-weight="bold" letter-spacing="0.6">*</text>
<path d="M159.4 399.7 V390.2 H263.6 V399.7" fill="none" stroke="#111" stroke-width="1.2"/>
<text x="211.20" y="392.00" font-size="20.5" text-anchor="middle" fill="#141414" font-weight="bold" letter-spacing="0.6">**</text>
<line x1="195.80" y1="436.60" x2="263.60" y2="436.60" stroke="#111" stroke-width="1.15" />
<text x="229.50" y="431.40" font-size="10.6" text-anchor="middle" fill="#141414" font-weight="bold">ns</text>
<line x1="194.90" y1="456.90" x2="240.40" y2="456.90" stroke="#555" stroke-width="1.2" />
<text x="217.80" y="451.80" font-size="10.6" text-anchor="middle" fill="#141414" font-weight="bold">ns</text>
<line x1="195.40" y1="477.30" x2="218.30" y2="477.30" stroke="#111" stroke-width="1.15" />
<text x="206.30" y="471.70" font-size="10.6" text-anchor="middle" fill="#141414" font-weight="bold">ns</text>
</g>
<g id="panelF">
<text x="445.60" y="399.30" font-size="12.4" text-anchor="middle" fill="#2e2ef4"><tspan font-style="italic">S</tspan>T</text>
<text x="514.40" y="399.30" font-size="12.4" text-anchor="middle" fill="#86f23c">NEDD9</text>
<text x="583.00" y="399.30" font-size="12.4" text-anchor="middle" fill="#fb2a1c">lysotracker</text>
<text x="652.00" y="399.30" font-size="12.4" text-anchor="middle" fill="#222">merge</text>
<text x="390.80" y="466.60" font-size="12.0" fill="#141414" font-style="italic" transform="rotate(-90 390.80 466.60)">Nedd9<tspan font-size="9.8" dy="-5.2">wt/wt</tspan></text>
<text x="405.00" y="437.70" font-size="12.4" text-anchor="middle" fill="#141414" transform="rotate(-90 405.00 437.70)"><tspan font-style="italic">S</tspan>T(4h)</text>
<text x="390.80" y="529.80" font-size="12.0" fill="#141414" font-style="italic" transform="rotate(-90 390.80 529.80)">Nedd9<tspan font-size="9.4" dy="-5.2">-/-</tspan></text>
<text x="405.00" y="507.50" font-size="12.4" text-anchor="middle" fill="#141414" transform="rotate(-90 405.00 507.50)"><tspan font-style="italic">S</tspan>T(4h)</text>
<clipPath id="cl9"><rect x="412.40" y="404.50" width="66.60" height="66.40"/></clipPath>
<g clip-path="url(#cl9)">
<rect x="412.40" y="404.50" width="66.60" height="66.40" fill="#000" />
<ellipse cx="441.00" cy="434.00" rx="9" ry="7" fill="#03031e" filter="url(#b3)"/>
<g filter="url(#b05)">
<ellipse cx="438.40" cy="428.40" rx="2.1" ry="1.4" fill="#2828f8" transform="rotate(20 438.40 428.40)" />
<ellipse cx="434.40" cy="433.00" rx="1.3" ry="2.0" fill="#2828f8" transform="rotate(25 434.40 433.00)" />
<ellipse cx="441.60" cy="435.60" rx="1.3" ry="1.3" fill="#2828f8" />
<ellipse cx="457.00" cy="436.60" rx="1.2" ry="1.0" fill="#2828f8" />
<ellipse cx="434.00" cy="445.60" rx="1.6" ry="1.1" fill="#2828f8" />
</g>
</g>
<clipPath id="cl10"><rect x="481.10" y="404.50" width="66.60" height="66.40"/></clipPath>
<g clip-path="url(#cl10)">
<g filter="url(#grain4)">
<rect x="481.10" y="404.50" width="66.60" height="66.40" fill="#000" />
<ellipse cx="514.00" cy="435.50" rx="24" ry="9.5" fill="#155209" filter="url(#b2)"/>
<ellipse cx="506.00" cy="433.00" rx="9" ry="5" fill="#1f7014" filter="url(#b2)"/>
</g>
<g filter="url(#b05)">
<ellipse cx="503.40" cy="426.80" rx="1.5" ry="1.2" fill="#5cf028" />
<ellipse cx="511.20" cy="427.60" rx="0.9" ry="0.9" fill="#38b81a" />
<ellipse cx="497.00" cy="443.00" rx="0.8" ry="0.8" fill="#2cae14" />
<ellipse cx="490.60" cy="456.60" rx="0.6" ry="0.6" fill="#2cae14" />
</g>
</g>
<clipPath id="cl11"><rect x="549.90" y="404.50" width="66.60" height="66.40"/></clipPath>
<g clip-path="url(#cl11)">
<g filter="url(#grain2)">
<rect x="549.90" y="404.50" width="66.60" height="66.40" fill="#000" />
<path d="M558.0 434.4 C566.0 430.4 574.0 425.4 581.0 425.4 C590.0 426.4 599.0 430.4 607.0 433.4 C600.0 439.4 591.0 443.4 581.0 448.4 C575.0 447.4 567.0 443.4 558.0 434.4Z" fill="#8e1c0d" filter="url(#b15)" transform="translate(34.98 26.18) scale(0.94)"/>
</g>
</g>
<clipPath id="cl12"><rect x="618.50" y="404.50" width="66.50" height="66.40"/></clipPath>
<g clip-path="url(#cl12)">
<g filter="url(#grain2)">
<rect x="618.50" y="404.50" width="66.50" height="66.40" fill="#000" />
<path d="M625.0 436.4 C633.0 432.4 641.0 427.4 648.0 427.4 C657.0 428.4 666.0 432.4 674.0 435.4 C667.0 441.4 658.0 445.4 648.0 450.4 C642.0 449.4 634.0 445.4 625.0 436.4Z" fill="#8e1c0d" filter="url(#b15)" transform="translate(39.00 26.30) scale(0.94)"/>
<ellipse cx="659.00" cy="450.00" rx="4.0" ry="2.4" fill="#0e3408" filter="url(#b1)"/>
</g>
<g filter="url(#b05)">
<ellipse cx="644.40" cy="430.20" rx="2.1" ry="1.4" fill="#3a3aff" transform="rotate(20 644.40 430.20)" />
<ellipse cx="640.40" cy="434.80" rx="1.3" ry="2.0" fill="#3a3aff" transform="rotate(25 640.40 434.80)" />
<ellipse cx="647.60" cy="437.40" rx="1.3" ry="1.3" fill="#3a3aff" />
<ellipse cx="663.00" cy="438.40" rx="1.2" ry="1.0" fill="#3a3aff" />
<ellipse cx="640.00" cy="447.40" rx="1.6" ry="1.1" fill="#3a3aff" />
</g>
<g filter="url(#b05)">
<ellipse cx="660.00" cy="438.60" rx="1.2" ry="1.2" fill="#3a3aff" />
<ellipse cx="644.60" cy="437.40" rx="1.3" ry="1.3" fill="#3a3aff" />
<ellipse cx="627.60" cy="460.00" rx="0.6" ry="0.6" fill="#2cae14" />
</g>
<line x1="661.60" y1="467.40" x2="679.80" y2="467.40" stroke="#fff" stroke-width="1.3" />
<text x="670.60" y="464.60" font-size="6.2" text-anchor="middle" fill="#fff">10 µm</text>
</g>
<clipPath id="cl13"><rect x="412.40" y="473.20" width="66.60" height="66.40"/></clipPath>
<g clip-path="url(#cl13)">
<rect x="412.40" y="473.20" width="66.60" height="66.40" fill="#000" />
<ellipse cx="451.50" cy="504.50" rx="6.5" ry="4.0" fill="#050530" transform="rotate(-20 451.50 504.50)" filter="url(#b2)"/>
<g filter="url(#b05)">
<ellipse cx="455.40" cy="502.20" rx="2.1" ry="1.2" fill="#2020f0" transform="rotate(40 455.40 502.20)" />
</g>
</g>
<clipPath id="cl14"><rect x="481.10" y="473.20" width="66.60" height="66.40"/></clipPath>
<g clip-path="url(#cl14)">
<rect x="481.10" y="473.20" width="66.60" height="66.40" fill="#000" />
</g>
<clipPath id="cl15"><rect x="549.90" y="473.20" width="66.60" height="66.40"/></clipPath>
<g clip-path="url(#cl15)">
<g filter="url(#grain3)">
<rect x="549.90" y="473.20" width="66.60" height="66.40" fill="#000" />
<path d="M561.0 505.0 C562.0 498.0 568.0 492.0 574.0 491.0 C580.0 493.0 587.0 498.0 592.0 502.0 L602.0 509.0 C596.0 511.0 591.0 515.0 586.0 516.0 C580.0 515.0 575.0 512.0 569.0 512.0 C565.0 512.0 561.0 510.0 561.0 505.0Z" fill="#70100a" filter="url(#rough)"/>
<path d="M561.0 505.0 C562.0 498.0 568.0 492.0 574.0 491.0 C580.0 493.0 587.0 498.0 592.0 502.0 L602.0 509.0 C596.0 511.0 591.0 515.0 586.0 516.0 C580.0 515.0 575.0 512.0 569.0 512.0 C565.0 512.0 561.0 510.0 561.0 505.0Z" fill="#dc1a10" filter="url(#rough)" transform="translate(80.92 70.56) scale(0.86)"/>
<ellipse cx="585.40" cy="507.20" rx="5.3" ry="5.1" fill="#140202" filter="url(#b08)"/>
</g>
</g>
<clipPath id="cl16"><rect x="618.50" y="473.20" width="66.50" height="66.40"/></clipPath>
<g clip-path="url(#cl16)">
<g filter="url(#grain3)">
<rect x="618.50" y="473.20" width="66.50" height="66.40" fill="#000" />
<path d="M633.4 505.0 C634.4 498.0 640.4 492.0 646.4 491.0 C652.4 493.0 659.4 498.0 664.4 502.0 L674.4 509.0 C668.4 511.0 663.4 515.0 658.4 516.0 C652.4 515.0 647.4 512.0 641.4 512.0 C637.4 512.0 633.4 510.0 633.4 505.0Z" fill="#70100a" filter="url(#rough)"/>
<path d="M633.4 505.0 C634.4 498.0 640.4 492.0 646.4 491.0 C652.4 493.0 659.4 498.0 664.4 502.0 L674.4 509.0 C668.4 511.0 663.4 515.0 658.4 516.0 C652.4 515.0 647.4 512.0 641.4 512.0 C637.4 512.0 633.4 510.0 633.4 505.0Z" fill="#dc1a10" filter="url(#rough)" transform="translate(91.06 70.56) scale(0.86)"/>
<ellipse cx="657.80" cy="507.20" rx="5.3" ry="5.1" fill="#140202" filter="url(#b08)"/>
</g>
<g filter="url(#b05)">
<ellipse cx="662.00" cy="501.60" rx="1.5" ry="2.2" fill="#4a3cff" transform="rotate(-20 662.00 501.60)" />
</g>
<line x1="662.00" y1="536.10" x2="680.00" y2="536.10" stroke="#fff" stroke-width="1.3" />
<text x="670.80" y="533.30" font-size="6.2" text-anchor="middle" fill="#fff">10 µm</text>
</g>
</g>
<g id="panelG">
<rect x="86.80" y="794.40" width="21.20" height="42.00" fill="#e8e8e8" stroke="#000" stroke-width="1.0" />
<rect x="131.50" y="766.60" width="20.90" height="69.80" fill="#e8e8e8" stroke="#000" stroke-width="1.0" />
<line x1="75.40" y1="702.40" x2="75.40" y2="837.45" stroke="#000" stroke-width="2.1" />
<line x1="68.60" y1="836.40" x2="165.20" y2="836.40" stroke="#000" stroke-width="2.1" />
<line x1="68.60" y1="836.40" x2="75.40" y2="836.40" stroke="#000" stroke-width="2.1" />
<text x="66.20" y="840.70" font-size="12.4" text-anchor="end" fill="#141414">0</text>
<line x1="68.60" y1="803.10" x2="75.40" y2="803.10" stroke="#000" stroke-width="2.1" />
<text x="66.20" y="807.40" font-size="12.4" text-anchor="end" fill="#141414">10</text>
<line x1="68.60" y1="769.80" x2="75.40" y2="769.80" stroke="#000" stroke-width="2.1" />
<text x="66.20" y="774.10" font-size="12.4" text-anchor="end" fill="#141414">20</text>
<line x1="68.60" y1="736.50" x2="75.40" y2="736.50" stroke="#000" stroke-width="2.1" />
<text x="66.20" y="740.80" font-size="12.4" text-anchor="end" fill="#141414">30</text>
<line x1="68.60" y1="703.20" x2="75.40" y2="703.20" stroke="#000" stroke-width="2.1" />
<text x="66.20" y="707.50" font-size="12.4" text-anchor="end" fill="#141414">40</text>
<line x1="97.30" y1="836.40" x2="97.30" y2="842.40" stroke="#000" stroke-width="2.1" />
<line x1="142.00" y1="836.40" x2="142.00" y2="842.40" stroke="#000" stroke-width="2.1" />
<text x="64.00" y="856.00" font-size="12.4" fill="#141414" font-style="italic">Nedd9<tspan font-size="9.0" dy="-5.0" font-style="normal">wt/wt</tspan></text>
<text x="124.20" y="856.80" font-size="12.4" fill="#141414" font-style="italic">Nedd9<tspan font-size="9.0" dy="-5.0" font-style="italic">-/-</tspan></text>
<text x="28.80" y="772.00" font-size="12.4" text-anchor="middle" fill="#141414" transform="rotate(-90 28.80 772.00)">integrated density of</text>
<text x="43.00" y="771.40" font-size="12.4" text-anchor="middle" fill="#141414" transform="rotate(-90 43.00 771.40)">lysotracker [AU]</text>
<line x1="97.30" y1="779.60" x2="97.30" y2="807.80" stroke="#000" stroke-width="1.0" />
<line x1="92.30" y1="779.60" x2="102.30" y2="779.60" stroke="#000" stroke-width="1.0" />
<line x1="92.30" y1="807.80" x2="102.30" y2="807.80" stroke="#000" stroke-width="1.0" />
<line x1="142.00" y1="744.20" x2="142.00" y2="788.30" stroke="#000" stroke-width="1.0" />
<line x1="137.00" y1="744.20" x2="147.00" y2="744.20" stroke="#000" stroke-width="1.0" />
<line x1="137.00" y1="788.30" x2="147.00" y2="788.30" stroke="#000" stroke-width="1.0" />
<circle cx="89.80" cy="773.40" r="3.5" fill="#8484f6" stroke="#000" stroke-width="0.6" fill-opacity="0.75"/>
<circle cx="100.60" cy="776.40" r="3.5" fill="#8484f6" stroke="#000" stroke-width="0.6" fill-opacity="0.75"/>
<circle cx="95.00" cy="777.80" r="3.5" fill="#8484f6" stroke="#000" stroke-width="0.6" fill-opacity="0.75"/>
<circle cx="97.30" cy="788.00" r="3.5" fill="#8484f6" stroke="#000" stroke-width="0.6" fill-opacity="0.75"/>
<circle cx="89.80" cy="801.50" r="3.5" fill="#8484f6" stroke="#000" stroke-width="0.6" fill-opacity="0.75"/>
<circle cx="94.20" cy="804.40" r="3.5" fill="#8484f6" stroke="#000" stroke-width="0.6" fill-opacity="0.75"/>
<circle cx="100.30" cy="805.80" r="3.5" fill="#8484f6" stroke="#000" stroke-width="0.6" fill-opacity="0.75"/>
<circle cx="105.50" cy="805.30" r="3.5" fill="#8484f6" stroke="#000" stroke-width="0.6" fill-opacity="0.75"/>
<circle cx="89.80" cy="809.70" r="3.5" fill="#8484f6" stroke="#000" stroke-width="0.6" fill-opacity="0.75"/>
<circle cx="142.00" cy="735.40" r="3.5" fill="#1616fa" stroke="#000" stroke-width="0.6" fill-opacity="0.8"/>
<circle cx="150.20" cy="731.40" r="3.5" fill="#1616fa" stroke="#000" stroke-width="0.6" fill-opacity="0.8"/>
<circle cx="142.00" cy="750.10" r="3.5" fill="#1616fa" stroke="#000" stroke-width="0.6" fill-opacity="0.8"/>
<circle cx="138.00" cy="757.70" r="3.5" fill="#1616fa" stroke="#000" stroke-width="0.6" fill-opacity="0.8"/>
<circle cx="145.80" cy="757.70" r="3.5" fill="#1616fa" stroke="#000" stroke-width="0.6" fill-opacity="0.8"/>
<circle cx="134.50" cy="771.20" r="3.5" fill="#1616fa" stroke="#000" stroke-width="0.6" fill-opacity="0.8"/>
<circle cx="142.00" cy="775.20" r="3.5" fill="#1616fa" stroke="#000" stroke-width="0.6" fill-opacity="0.8"/>
<circle cx="149.30" cy="773.40" r="3.5" fill="#1616fa" stroke="#000" stroke-width="0.6" fill-opacity="0.8"/>
<circle cx="142.00" cy="786.20" r="3.5" fill="#1616fa" stroke="#000" stroke-width="0.6" fill-opacity="0.8"/>
<circle cx="138.00" cy="795.70" r="3.5" fill="#1616fa" stroke="#000" stroke-width="0.6" fill-opacity="0.8"/>
<circle cx="145.80" cy="794.50" r="3.5" fill="#1616fa" stroke="#000" stroke-width="0.6" fill-opacity="0.8"/>
<line x1="97.20" y1="696.50" x2="140.60" y2="696.50" stroke="#000" stroke-width="1.0" />
<text x="118.80" y="698.50" font-size="20.5" text-anchor="middle" fill="#141414" font-weight="bold" letter-spacing="0.6">**</text>
</g>
<g id="panelH">
<line x1="332.70" y1="679.50" x2="332.70" y2="837.35" stroke="#000" stroke-width="2.1" />
<line x1="326.20" y1="836.30" x2="556.40" y2="836.30" stroke="#000" stroke-width="2.1" />
<line x1="326.20" y1="836.30" x2="332.70" y2="836.30" stroke="#000" stroke-width="2.1" />
<text x="323.40" y="840.60" font-size="12.4" text-anchor="end" fill="#141414">0</text>
<line x1="326.20" y1="797.27" x2="332.70" y2="797.27" stroke="#000" stroke-width="2.1" />
<text x="323.40" y="801.57" font-size="12.4" text-anchor="end" fill="#141414">5000</text>
<line x1="326.20" y1="758.25" x2="332.70" y2="758.25" stroke="#000" stroke-width="2.1" />
<text x="323.40" y="762.55" font-size="12.4" text-anchor="end" fill="#141414">10000</text>
<line x1="326.20" y1="719.22" x2="332.70" y2="719.22" stroke="#000" stroke-width="2.1" />
<text x="323.40" y="723.52" font-size="12.4" text-anchor="end" fill="#141414">15000</text>
<line x1="326.20" y1="680.20" x2="332.70" y2="680.20" stroke="#000" stroke-width="2.1" />
<text x="323.40" y="684.50" font-size="12.4" text-anchor="end" fill="#141414">20000</text>
<line x1="332.60" y1="836.30" x2="332.60" y2="842.20" stroke="#000" stroke-width="2.1" />
<text x="332.60" y="857.80" font-size="12.4" text-anchor="middle" fill="#141414">0</text>
<line x1="377.23" y1="836.30" x2="377.23" y2="842.20" stroke="#000" stroke-width="2.1" />
<text x="377.23" y="857.80" font-size="12.4" text-anchor="middle" fill="#141414">50</text>
<line x1="421.85" y1="836.30" x2="421.85" y2="842.20" stroke="#000" stroke-width="2.1" />
<text x="421.85" y="857.80" font-size="12.4" text-anchor="middle" fill="#141414">100</text>
<line x1="466.48" y1="836.30" x2="466.48" y2="842.20" stroke="#000" stroke-width="2.1" />
<text x="466.48" y="857.80" font-size="12.4" text-anchor="middle" fill="#141414">150</text>
<line x1="511.10" y1="836.30" x2="511.10" y2="842.20" stroke="#000" stroke-width="2.1" />
<text x="511.10" y="857.80" font-size="12.4" text-anchor="middle" fill="#141414">200</text>
<line x1="555.73" y1="836.30" x2="555.73" y2="842.20" stroke="#000" stroke-width="2.1" />
<text x="555.73" y="857.80" font-size="12.4" text-anchor="middle" fill="#141414">250</text>
<text x="444.20" y="875.60" font-size="12.4" text-anchor="middle" fill="#141414">Time [min]</text>
<text x="277.40" y="761.30" font-size="12.4" text-anchor="middle" fill="#141414" transform="rotate(-90 277.40 761.30)">C<tspan font-size="9.2" dy="2.6">12</tspan><tspan dy="-2.6"> FDG Fluorescence RLU</tspan></text>
<polyline points="332.60,831.50 341.53,831.30 350.45,830.90 359.38,827.80 368.30,817.80 377.23,809.40 386.15,799.40 395.08,790.20 404.00,777.20 412.93,767.70 421.85,761.40 430.78,754.10 439.70,748.00 448.62,739.60 457.55,729.90 466.48,723.90 475.40,716.00 484.33,712.00 493.25,708.10 502.18,706.30 511.10,701.50" fill="none" stroke="#fa2418" stroke-width="1.3" stroke-linejoin="round"/>
<line x1="359.38" y1="825.80" x2="359.38" y2="829.80" stroke="#fa2418" stroke-width="1.1" />
<line x1="356.07" y1="825.80" x2="362.68" y2="825.80" stroke="#fa2418" stroke-width="1.1" />
<line x1="356.07" y1="829.80" x2="362.68" y2="829.80" stroke="#fa2418" stroke-width="1.1" />
<line x1="368.30" y1="813.90" x2="368.30" y2="821.70" stroke="#fa2418" stroke-width="1.1" />
<line x1="365.00" y1="813.90" x2="371.60" y2="813.90" stroke="#fa2418" stroke-width="1.1" />
<line x1="365.00" y1="821.70" x2="371.60" y2="821.70" stroke="#fa2418" stroke-width="1.1" />
<line x1="377.23" y1="804.20" x2="377.23" y2="814.60" stroke="#fa2418" stroke-width="1.1" />
<line x1="373.93" y1="804.20" x2="380.53" y2="804.20" stroke="#fa2418" stroke-width="1.1" />
<line x1="373.93" y1="814.60" x2="380.53" y2="814.60" stroke="#fa2418" stroke-width="1.1" />
<line x1="386.15" y1="792.20" x2="386.15" y2="806.60" stroke="#fa2418" stroke-width="1.1" />
<line x1="382.85" y1="792.20" x2="389.45" y2="792.20" stroke="#fa2418" stroke-width="1.1" />
<line x1="382.85" y1="806.60" x2="389.45" y2="806.60" stroke="#fa2418" stroke-width="1.1" />
<line x1="395.08" y1="776.70" x2="395.08" y2="803.70" stroke="#fa2418" stroke-width="1.1" />
<line x1="391.78" y1="776.70" x2="398.38" y2="776.70" stroke="#fa2418" stroke-width="1.1" />
<line x1="391.78" y1="803.70" x2="398.38" y2="803.70" stroke="#fa2418" stroke-width="1.1" />
<line x1="404.00" y1="769.10" x2="404.00" y2="785.30" stroke="#fa2418" stroke-width="1.1" />
<line x1="400.70" y1="769.10" x2="407.30" y2="769.10" stroke="#fa2418" stroke-width="1.1" />
<line x1="400.70" y1="785.30" x2="407.30" y2="785.30" stroke="#fa2418" stroke-width="1.1" />
<line x1="412.93" y1="761.70" x2="412.93" y2="773.70" stroke="#fa2418" stroke-width="1.1" />
<line x1="409.62" y1="761.70" x2="416.23" y2="761.70" stroke="#fa2418" stroke-width="1.1" />
<line x1="409.62" y1="773.70" x2="416.23" y2="773.70" stroke="#fa2418" stroke-width="1.1" />
<line x1="421.85" y1="751.20" x2="421.85" y2="771.60" stroke="#fa2418" stroke-width="1.1" />
<line x1="418.55" y1="751.20" x2="425.15" y2="751.20" stroke="#fa2418" stroke-width="1.1" />
<line x1="418.55" y1="771.60" x2="425.15" y2="771.60" stroke="#fa2418" stroke-width="1.1" />
<line x1="430.78" y1="744.30" x2="430.78" y2="763.90" stroke="#fa2418" stroke-width="1.1" />
<line x1="427.48" y1="744.30" x2="434.08" y2="744.30" stroke="#fa2418" stroke-width="1.1" />
<line x1="427.48" y1="763.90" x2="434.08" y2="763.90" stroke="#fa2418" stroke-width="1.1" />
<line x1="439.70" y1="735.20" x2="439.70" y2="760.80" stroke="#fa2418" stroke-width="1.1" />
<line x1="436.40" y1="735.20" x2="443.00" y2="735.20" stroke="#fa2418" stroke-width="1.1" />
<line x1="436.40" y1="760.80" x2="443.00" y2="760.80" stroke="#fa2418" stroke-width="1.1" />
<line x1="448.62" y1="726.90" x2="448.62" y2="752.30" stroke="#fa2418" stroke-width="1.1" />
<line x1="445.32" y1="726.90" x2="451.93" y2="726.90" stroke="#fa2418" stroke-width="1.1" />
<line x1="445.32" y1="752.30" x2="451.93" y2="752.30" stroke="#fa2418" stroke-width="1.1" />
<line x1="457.55" y1="718.80" x2="457.55" y2="741.00" stroke="#fa2418" stroke-width="1.1" />
<line x1="454.25" y1="718.80" x2="460.85" y2="718.80" stroke="#fa2418" stroke-width="1.1" />
<line x1="454.25" y1="741.00" x2="460.85" y2="741.00" stroke="#fa2418" stroke-width="1.1" />
<line x1="466.48" y1="708.80" x2="466.48" y2="739.00" stroke="#fa2418" stroke-width="1.1" />
<line x1="463.18" y1="708.80" x2="469.78" y2="708.80" stroke="#fa2418" stroke-width="1.1" />
<line x1="463.18" y1="739.00" x2="469.78" y2="739.00" stroke="#fa2418" stroke-width="1.1" />
<line x1="475.40" y1="700.60" x2="475.40" y2="731.40" stroke="#fa2418" stroke-width="1.1" />
<line x1="472.10" y1="700.60" x2="478.70" y2="700.60" stroke="#fa2418" stroke-width="1.1" />
<line x1="472.10" y1="731.40" x2="478.70" y2="731.40" stroke="#fa2418" stroke-width="1.1" />
<line x1="484.33" y1="700.20" x2="484.33" y2="723.80" stroke="#fa2418" stroke-width="1.1" />
<line x1="481.03" y1="700.20" x2="487.63" y2="700.20" stroke="#fa2418" stroke-width="1.1" />
<line x1="481.03" y1="723.80" x2="487.63" y2="723.80" stroke="#fa2418" stroke-width="1.1" />
<line x1="493.25" y1="699.80" x2="493.25" y2="716.40" stroke="#fa2418" stroke-width="1.1" />
<line x1="489.95" y1="699.80" x2="496.55" y2="699.80" stroke="#fa2418" stroke-width="1.1" />
<line x1="489.95" y1="716.40" x2="496.55" y2="716.40" stroke="#fa2418" stroke-width="1.1" />
<line x1="502.18" y1="696.70" x2="502.18" y2="715.90" stroke="#fa2418" stroke-width="1.1" />
<line x1="498.88" y1="696.70" x2="505.48" y2="696.70" stroke="#fa2418" stroke-width="1.1" />
<line x1="498.88" y1="715.90" x2="505.48" y2="715.90" stroke="#fa2418" stroke-width="1.1" />
<line x1="511.10" y1="693.20" x2="511.10" y2="709.80" stroke="#fa2418" stroke-width="1.1" />
<line x1="507.80" y1="693.20" x2="514.40" y2="693.20" stroke="#fa2418" stroke-width="1.1" />
<line x1="507.80" y1="709.80" x2="514.40" y2="709.80" stroke="#fa2418" stroke-width="1.1" />
<path d="M332.60 827.60 L336.30 834.10 L328.90 834.10Z" fill="#fa2418"/>
<path d="M341.53 827.40 L345.23 833.90 L337.83 833.90Z" fill="#fa2418"/>
<path d="M350.45 827.00 L354.15 833.50 L346.75 833.50Z" fill="#fa2418"/>
<path d="M359.38 823.90 L363.07 830.40 L355.68 830.40Z" fill="#fa2418"/>
<path d="M368.30 813.90 L372.00 820.40 L364.60 820.40Z" fill="#fa2418"/>
<path d="M377.23 805.50 L380.93 812.00 L373.53 812.00Z" fill="#fa2418"/>
<path d="M386.15 795.50 L389.85 802.00 L382.45 802.00Z" fill="#fa2418"/>
<path d="M395.08 786.30 L398.78 792.80 L391.38 792.80Z" fill="#fa2418"/>
<path d="M404.00 773.30 L407.70 779.80 L400.30 779.80Z" fill="#fa2418"/>
<path d="M412.93 763.80 L416.62 770.30 L409.23 770.30Z" fill="#fa2418"/>
<path d="M421.85 757.50 L425.55 764.00 L418.15 764.00Z" fill="#fa2418"/>
<path d="M430.78 750.20 L434.48 756.70 L427.08 756.70Z" fill="#fa2418"/>
<path d="M439.70 744.10 L443.40 750.60 L436.00 750.60Z" fill="#fa2418"/>
<path d="M448.62 735.70 L452.32 742.20 L444.93 742.20Z" fill="#fa2418"/>
<path d="M457.55 726.00 L461.25 732.50 L453.85 732.50Z" fill="#fa2418"/>
<path d="M466.48 720.00 L470.18 726.50 L462.78 726.50Z" fill="#fa2418"/>
<path d="M475.40 712.10 L479.10 718.60 L471.70 718.60Z" fill="#fa2418"/>
<path d="M484.33 708.10 L488.03 714.60 L480.63 714.60Z" fill="#fa2418"/>
<path d="M493.25 704.20 L496.95 710.70 L489.55 710.70Z" fill="#fa2418"/>
<path d="M502.18 702.40 L505.88 708.90 L498.48 708.90Z" fill="#fa2418"/>
<path d="M511.10 697.60 L514.80 704.10 L507.40 704.10Z" fill="#fa2418"/>
<polyline points="332.60,832.20 341.53,832.00 350.45,831.60 359.38,831.00 368.30,830.00 377.23,828.80 386.15,827.60 395.08,826.40 404.00,825.20 412.93,824.00 421.85,822.70 430.78,821.60 439.70,820.50 448.62,819.40 457.55,818.40 466.48,817.40 475.40,816.40 484.33,815.60 493.25,814.90 502.18,814.30 511.10,813.80" fill="none" stroke="#f0606a" stroke-width="1.3" stroke-linejoin="round"/>
<line x1="377.23" y1="827.30" x2="377.23" y2="830.30" stroke="#f0606a" stroke-width="1.1" />
<line x1="373.93" y1="827.30" x2="380.53" y2="827.30" stroke="#f0606a" stroke-width="1.1" />
<line x1="373.93" y1="830.30" x2="380.53" y2="830.30" stroke="#f0606a" stroke-width="1.1" />
<line x1="386.15" y1="825.70" x2="386.15" y2="829.50" stroke="#f0606a" stroke-width="1.1" />
<line x1="382.85" y1="825.70" x2="389.45" y2="825.70" stroke="#f0606a" stroke-width="1.1" />
<line x1="382.85" y1="829.50" x2="389.45" y2="829.50" stroke="#f0606a" stroke-width="1.1" />
<line x1="395.08" y1="824.10" x2="395.08" y2="828.70" stroke="#f0606a" stroke-width="1.1" />
<line x1="391.78" y1="824.10" x2="398.38" y2="824.10" stroke="#f0606a" stroke-width="1.1" />
<line x1="391.78" y1="828.70" x2="398.38" y2="828.70" stroke="#f0606a" stroke-width="1.1" />
<line x1="404.00" y1="822.60" x2="404.00" y2="827.80" stroke="#f0606a" stroke-width="1.1" />
<line x1="400.70" y1="822.60" x2="407.30" y2="822.60" stroke="#f0606a" stroke-width="1.1" />
<line x1="400.70" y1="827.80" x2="407.30" y2="827.80" stroke="#f0606a" stroke-width="1.1" />
<line x1="412.93" y1="821.00" x2="412.93" y2="827.00" stroke="#f0606a" stroke-width="1.1" />
<line x1="409.62" y1="821.00" x2="416.23" y2="821.00" stroke="#f0606a" stroke-width="1.1" />
<line x1="409.62" y1="827.00" x2="416.23" y2="827.00" stroke="#f0606a" stroke-width="1.1" />
<line x1="421.85" y1="819.40" x2="421.85" y2="826.00" stroke="#f0606a" stroke-width="1.1" />
<line x1="418.55" y1="819.40" x2="425.15" y2="819.40" stroke="#f0606a" stroke-width="1.1" />
<line x1="418.55" y1="826.00" x2="425.15" y2="826.00" stroke="#f0606a" stroke-width="1.1" />
<line x1="430.78" y1="818.00" x2="430.78" y2="825.20" stroke="#f0606a" stroke-width="1.1" />
<line x1="427.48" y1="818.00" x2="434.08" y2="818.00" stroke="#f0606a" stroke-width="1.1" />
<line x1="427.48" y1="825.20" x2="434.08" y2="825.20" stroke="#f0606a" stroke-width="1.1" />
<line x1="439.70" y1="816.60" x2="439.70" y2="824.40" stroke="#f0606a" stroke-width="1.1" />
<line x1="436.40" y1="816.60" x2="443.00" y2="816.60" stroke="#f0606a" stroke-width="1.1" />
<line x1="436.40" y1="824.40" x2="443.00" y2="824.40" stroke="#f0606a" stroke-width="1.1" />
<line x1="448.62" y1="815.20" x2="448.62" y2="823.60" stroke="#f0606a" stroke-width="1.1" />
<line x1="445.32" y1="815.20" x2="451.93" y2="815.20" stroke="#f0606a" stroke-width="1.1" />
<line x1="445.32" y1="823.60" x2="451.93" y2="823.60" stroke="#f0606a" stroke-width="1.1" />
<line x1="457.55" y1="813.90" x2="457.55" y2="822.90" stroke="#f0606a" stroke-width="1.1" />
<line x1="454.25" y1="813.90" x2="460.85" y2="813.90" stroke="#f0606a" stroke-width="1.1" />
<line x1="454.25" y1="822.90" x2="460.85" y2="822.90" stroke="#f0606a" stroke-width="1.1" />
<line x1="466.48" y1="812.70" x2="466.48" y2="822.10" stroke="#f0606a" stroke-width="1.1" />
<line x1="463.18" y1="812.70" x2="469.78" y2="812.70" stroke="#f0606a" stroke-width="1.1" />
<line x1="463.18" y1="822.10" x2="469.78" y2="822.10" stroke="#f0606a" stroke-width="1.1" />
<line x1="475.40" y1="811.50" x2="475.40" y2="821.30" stroke="#f0606a" stroke-width="1.1" />
<line x1="472.10" y1="811.50" x2="478.70" y2="811.50" stroke="#f0606a" stroke-width="1.1" />
<line x1="472.10" y1="821.30" x2="478.70" y2="821.30" stroke="#f0606a" stroke-width="1.1" />
<line x1="484.33" y1="810.50" x2="484.33" y2="820.70" stroke="#f0606a" stroke-width="1.1" />
<line x1="481.03" y1="810.50" x2="487.63" y2="810.50" stroke="#f0606a" stroke-width="1.1" />
<line x1="481.03" y1="820.70" x2="487.63" y2="820.70" stroke="#f0606a" stroke-width="1.1" />
<line x1="493.25" y1="809.70" x2="493.25" y2="820.10" stroke="#f0606a" stroke-width="1.1" />
<line x1="489.95" y1="809.70" x2="496.55" y2="809.70" stroke="#f0606a" stroke-width="1.1" />
<line x1="489.95" y1="820.10" x2="496.55" y2="820.10" stroke="#f0606a" stroke-width="1.1" />
<line x1="502.18" y1="809.00" x2="502.18" y2="819.60" stroke="#f0606a" stroke-width="1.1" />
<line x1="498.88" y1="809.00" x2="505.48" y2="809.00" stroke="#f0606a" stroke-width="1.1" />
<line x1="498.88" y1="819.60" x2="505.48" y2="819.60" stroke="#f0606a" stroke-width="1.1" />
<line x1="511.10" y1="808.50" x2="511.10" y2="819.10" stroke="#f0606a" stroke-width="1.1" />
<line x1="507.80" y1="808.50" x2="514.40" y2="808.50" stroke="#f0606a" stroke-width="1.1" />
<line x1="507.80" y1="819.10" x2="514.40" y2="819.10" stroke="#f0606a" stroke-width="1.1" />
<path d="M332.60 835.80 L336.10 829.80 L329.10 829.80Z" fill="#f0606a"/>
<path d="M341.53 835.60 L345.03 829.60 L338.03 829.60Z" fill="#f0606a"/>
<path d="M350.45 835.20 L353.95 829.20 L346.95 829.20Z" fill="#f0606a"/>
<path d="M359.38 834.60 L362.88 828.60 L355.88 828.60Z" fill="#f0606a"/>
<path d="M368.30 833.60 L371.80 827.60 L364.80 827.60Z" fill="#f0606a"/>
<path d="M377.23 832.40 L380.73 826.40 L373.73 826.40Z" fill="#f0606a"/>
<path d="M386.15 831.20 L389.65 825.20 L382.65 825.20Z" fill="#f0606a"/>
<path d="M395.08 830.00 L398.58 824.00 L391.58 824.00Z" fill="#f0606a"/>
<path d="M404.00 828.80 L407.50 822.80 L400.50 822.80Z" fill="#f0606a"/>
<path d="M412.93 827.60 L416.43 821.60 L409.43 821.60Z" fill="#f0606a"/>
<path d="M421.85 826.30 L425.35 820.30 L418.35 820.30Z" fill="#f0606a"/>
<path d="M430.78 825.20 L434.28 819.20 L427.28 819.20Z" fill="#f0606a"/>
<path d="M439.70 824.10 L443.20 818.10 L436.20 818.10Z" fill="#f0606a"/>
<path d="M448.62 823.00 L452.12 817.00 L445.12 817.00Z" fill="#f0606a"/>
<path d="M457.55 822.00 L461.05 816.00 L454.05 816.00Z" fill="#f0606a"/>
<path d="M466.48 821.00 L469.98 815.00 L462.98 815.00Z" fill="#f0606a"/>
<path d="M475.40 820.00 L478.90 814.00 L471.90 814.00Z" fill="#f0606a"/>
<path d="M484.33 819.20 L487.83 813.20 L480.83 813.20Z" fill="#f0606a"/>
<path d="M493.25 818.50 L496.75 812.50 L489.75 812.50Z" fill="#f0606a"/>
<path d="M502.18 817.90 L505.68 811.90 L498.68 811.90Z" fill="#f0606a"/>
<path d="M511.10 817.40 L514.60 811.40 L507.60 811.40Z" fill="#f0606a"/>
<polyline points="332.60,832.40 341.53,832.30 350.45,832.00 359.38,831.60 368.30,830.90 377.23,830.00 386.15,829.20 395.08,828.40 404.00,827.60 412.93,827.00 421.85,826.00 430.78,825.20 439.70,824.40 448.62,823.70 457.55,823.00 466.48,822.30 475.40,821.70 484.33,821.20 493.25,820.80 502.18,820.50 511.10,820.20" fill="none" stroke="#4a92f6" stroke-width="1.3" stroke-linejoin="round"/>
<line x1="395.08" y1="827.10" x2="395.08" y2="829.70" stroke="#4a92f6" stroke-width="1.1" />
<line x1="391.78" y1="827.10" x2="398.38" y2="827.10" stroke="#4a92f6" stroke-width="1.1" />
<line x1="391.78" y1="829.70" x2="398.38" y2="829.70" stroke="#4a92f6" stroke-width="1.1" />
<line x1="404.00" y1="826.10" x2="404.00" y2="829.10" stroke="#4a92f6" stroke-width="1.1" />
<line x1="400.70" y1="826.10" x2="407.30" y2="826.10" stroke="#4a92f6" stroke-width="1.1" />
<line x1="400.70" y1="829.10" x2="407.30" y2="829.10" stroke="#4a92f6" stroke-width="1.1" />
<line x1="412.93" y1="825.30" x2="412.93" y2="828.70" stroke="#4a92f6" stroke-width="1.1" />
<line x1="409.62" y1="825.30" x2="416.23" y2="825.30" stroke="#4a92f6" stroke-width="1.1" />
<line x1="409.62" y1="828.70" x2="416.23" y2="828.70" stroke="#4a92f6" stroke-width="1.1" />
<line x1="421.85" y1="824.10" x2="421.85" y2="827.90" stroke="#4a92f6" stroke-width="1.1" />
<line x1="418.55" y1="824.10" x2="425.15" y2="824.10" stroke="#4a92f6" stroke-width="1.1" />
<line x1="418.55" y1="827.90" x2="425.15" y2="827.90" stroke="#4a92f6" stroke-width="1.1" />
<line x1="430.78" y1="823.10" x2="430.78" y2="827.30" stroke="#4a92f6" stroke-width="1.1" />
<line x1="427.48" y1="823.10" x2="434.08" y2="823.10" stroke="#4a92f6" stroke-width="1.1" />
<line x1="427.48" y1="827.30" x2="434.08" y2="827.30" stroke="#4a92f6" stroke-width="1.1" />
<line x1="439.70" y1="822.10" x2="439.70" y2="826.70" stroke="#4a92f6" stroke-width="1.1" />
<line x1="436.40" y1="822.10" x2="443.00" y2="822.10" stroke="#4a92f6" stroke-width="1.1" />
<line x1="436.40" y1="826.70" x2="443.00" y2="826.70" stroke="#4a92f6" stroke-width="1.1" />
<line x1="448.62" y1="821.20" x2="448.62" y2="826.20" stroke="#4a92f6" stroke-width="1.1" />
<line x1="445.32" y1="821.20" x2="451.93" y2="821.20" stroke="#4a92f6" stroke-width="1.1" />
<line x1="445.32" y1="826.20" x2="451.93" y2="826.20" stroke="#4a92f6" stroke-width="1.1" />
<line x1="457.55" y1="820.30" x2="457.55" y2="825.70" stroke="#4a92f6" stroke-width="1.1" />
<line x1="454.25" y1="820.30" x2="460.85" y2="820.30" stroke="#4a92f6" stroke-width="1.1" />
<line x1="454.25" y1="825.70" x2="460.85" y2="825.70" stroke="#4a92f6" stroke-width="1.1" />
<line x1="466.48" y1="819.50" x2="466.48" y2="825.10" stroke="#4a92f6" stroke-width="1.1" />
<line x1="463.18" y1="819.50" x2="469.78" y2="819.50" stroke="#4a92f6" stroke-width="1.1" />
<line x1="463.18" y1="825.10" x2="469.78" y2="825.10" stroke="#4a92f6" stroke-width="1.1" />
<line x1="475.40" y1="818.80" x2="475.40" y2="824.60" stroke="#4a92f6" stroke-width="1.1" />
<line x1="472.10" y1="818.80" x2="478.70" y2="818.80" stroke="#4a92f6" stroke-width="1.1" />
<line x1="472.10" y1="824.60" x2="478.70" y2="824.60" stroke="#4a92f6" stroke-width="1.1" />
<line x1="484.33" y1="818.20" x2="484.33" y2="824.20" stroke="#4a92f6" stroke-width="1.1" />
<line x1="481.03" y1="818.20" x2="487.63" y2="818.20" stroke="#4a92f6" stroke-width="1.1" />
<line x1="481.03" y1="824.20" x2="487.63" y2="824.20" stroke="#4a92f6" stroke-width="1.1" />
<line x1="493.25" y1="817.70" x2="493.25" y2="823.90" stroke="#4a92f6" stroke-width="1.1" />
<line x1="489.95" y1="817.70" x2="496.55" y2="817.70" stroke="#4a92f6" stroke-width="1.1" />
<line x1="489.95" y1="823.90" x2="496.55" y2="823.90" stroke="#4a92f6" stroke-width="1.1" />
<line x1="502.18" y1="817.30" x2="502.18" y2="823.70" stroke="#4a92f6" stroke-width="1.1" />
<line x1="498.88" y1="817.30" x2="505.48" y2="817.30" stroke="#4a92f6" stroke-width="1.1" />
<line x1="498.88" y1="823.70" x2="505.48" y2="823.70" stroke="#4a92f6" stroke-width="1.1" />
<line x1="511.10" y1="817.00" x2="511.10" y2="823.40" stroke="#4a92f6" stroke-width="1.1" />
<line x1="507.80" y1="817.00" x2="514.40" y2="817.00" stroke="#4a92f6" stroke-width="1.1" />
<line x1="507.80" y1="823.40" x2="514.40" y2="823.40" stroke="#4a92f6" stroke-width="1.1" />
<rect x="329.10" y="828.90" width="7.0" height="7.0" fill="#4a92f6"/>
<rect x="338.03" y="828.80" width="7.0" height="7.0" fill="#4a92f6"/>
<rect x="346.95" y="828.50" width="7.0" height="7.0" fill="#4a92f6"/>
<rect x="355.88" y="828.10" width="7.0" height="7.0" fill="#4a92f6"/>
<rect x="364.80" y="827.40" width="7.0" height="7.0" fill="#4a92f6"/>
<rect x="373.73" y="826.50" width="7.0" height="7.0" fill="#4a92f6"/>
<rect x="382.65" y="825.70" width="7.0" height="7.0" fill="#4a92f6"/>
<rect x="391.58" y="824.90" width="7.0" height="7.0" fill="#4a92f6"/>
<rect x="400.50" y="824.10" width="7.0" height="7.0" fill="#4a92f6"/>
<rect x="409.43" y="823.50" width="7.0" height="7.0" fill="#4a92f6"/>
<rect x="418.35" y="822.50" width="7.0" height="7.0" fill="#4a92f6"/>
<rect x="427.28" y="821.70" width="7.0" height="7.0" fill="#4a92f6"/>
<rect x="436.20" y="820.90" width="7.0" height="7.0" fill="#4a92f6"/>
<rect x="445.12" y="820.20" width="7.0" height="7.0" fill="#4a92f6"/>
<rect x="454.05" y="819.50" width="7.0" height="7.0" fill="#4a92f6"/>
<rect x="462.98" y="818.80" width="7.0" height="7.0" fill="#4a92f6"/>
<rect x="471.90" y="818.20" width="7.0" height="7.0" fill="#4a92f6"/>
<rect x="480.83" y="817.70" width="7.0" height="7.0" fill="#4a92f6"/>
<rect x="489.75" y="817.30" width="7.0" height="7.0" fill="#4a92f6"/>
<rect x="498.68" y="817.00" width="7.0" height="7.0" fill="#4a92f6"/>
<rect x="507.60" y="816.70" width="7.0" height="7.0" fill="#4a92f6"/>
<polyline points="332.60,831.50 341.53,831.30 350.45,830.80 359.38,829.60 368.30,824.90 377.23,819.10 386.15,812.50 395.08,807.30 404.00,801.50 412.93,797.30 421.85,793.60 430.78,792.10 439.70,788.40 448.62,786.80 457.55,785.70 466.48,785.20 475.40,784.40 484.33,783.90 493.25,783.60 502.18,783.50 511.10,783.50" fill="none" stroke="#1c1cee" stroke-width="1.3" stroke-linejoin="round"/>
<line x1="359.38" y1="828.00" x2="359.38" y2="831.20" stroke="#1c1cee" stroke-width="1.1" />
<line x1="356.07" y1="828.00" x2="362.68" y2="828.00" stroke="#1c1cee" stroke-width="1.1" />
<line x1="356.07" y1="831.20" x2="362.68" y2="831.20" stroke="#1c1cee" stroke-width="1.1" />
<line x1="368.30" y1="821.50" x2="368.30" y2="828.30" stroke="#1c1cee" stroke-width="1.1" />
<line x1="365.00" y1="821.50" x2="371.60" y2="821.50" stroke="#1c1cee" stroke-width="1.1" />
<line x1="365.00" y1="828.30" x2="371.60" y2="828.30" stroke="#1c1cee" stroke-width="1.1" />
<line x1="377.23" y1="812.50" x2="377.23" y2="825.70" stroke="#1c1cee" stroke-width="1.1" />
<line x1="373.93" y1="812.50" x2="380.53" y2="812.50" stroke="#1c1cee" stroke-width="1.1" />
<line x1="373.93" y1="825.70" x2="380.53" y2="825.70" stroke="#1c1cee" stroke-width="1.1" />
<line x1="386.15" y1="803.40" x2="386.15" y2="821.60" stroke="#1c1cee" stroke-width="1.1" />
<line x1="382.85" y1="803.40" x2="389.45" y2="803.40" stroke="#1c1cee" stroke-width="1.1" />
<line x1="382.85" y1="821.60" x2="389.45" y2="821.60" stroke="#1c1cee" stroke-width="1.1" />
<line x1="395.08" y1="795.30" x2="395.08" y2="819.30" stroke="#1c1cee" stroke-width="1.1" />
<line x1="391.78" y1="795.30" x2="398.38" y2="795.30" stroke="#1c1cee" stroke-width="1.1" />
<line x1="391.78" y1="819.30" x2="398.38" y2="819.30" stroke="#1c1cee" stroke-width="1.1" />
<line x1="404.00" y1="785.80" x2="404.00" y2="817.20" stroke="#1c1cee" stroke-width="1.1" />
<line x1="400.70" y1="785.80" x2="407.30" y2="785.80" stroke="#1c1cee" stroke-width="1.1" />
<line x1="400.70" y1="817.20" x2="407.30" y2="817.20" stroke="#1c1cee" stroke-width="1.1" />
<line x1="412.93" y1="780.50" x2="412.93" y2="814.10" stroke="#1c1cee" stroke-width="1.1" />
<line x1="409.62" y1="780.50" x2="416.23" y2="780.50" stroke="#1c1cee" stroke-width="1.1" />
<line x1="409.62" y1="814.10" x2="416.23" y2="814.10" stroke="#1c1cee" stroke-width="1.1" />
<line x1="421.85" y1="776.00" x2="421.85" y2="811.20" stroke="#1c1cee" stroke-width="1.1" />
<line x1="418.55" y1="776.00" x2="425.15" y2="776.00" stroke="#1c1cee" stroke-width="1.1" />
<line x1="418.55" y1="811.20" x2="425.15" y2="811.20" stroke="#1c1cee" stroke-width="1.1" />
<line x1="430.78" y1="774.30" x2="430.78" y2="809.90" stroke="#1c1cee" stroke-width="1.1" />
<line x1="427.48" y1="774.30" x2="434.08" y2="774.30" stroke="#1c1cee" stroke-width="1.1" />
<line x1="427.48" y1="809.90" x2="434.08" y2="809.90" stroke="#1c1cee" stroke-width="1.1" />
<line x1="439.70" y1="770.30" x2="439.70" y2="806.50" stroke="#1c1cee" stroke-width="1.1" />
<line x1="436.40" y1="770.30" x2="443.00" y2="770.30" stroke="#1c1cee" stroke-width="1.1" />
<line x1="436.40" y1="806.50" x2="443.00" y2="806.50" stroke="#1c1cee" stroke-width="1.1" />
<line x1="448.62" y1="768.90" x2="448.62" y2="804.70" stroke="#1c1cee" stroke-width="1.1" />
<line x1="445.32" y1="768.90" x2="451.93" y2="768.90" stroke="#1c1cee" stroke-width="1.1" />
<line x1="445.32" y1="804.70" x2="451.93" y2="804.70" stroke="#1c1cee" stroke-width="1.1" />
<line x1="457.55" y1="768.00" x2="457.55" y2="803.40" stroke="#1c1cee" stroke-width="1.1" />
<line x1="454.25" y1="768.00" x2="460.85" y2="768.00" stroke="#1c1cee" stroke-width="1.1" />
<line x1="454.25" y1="803.40" x2="460.85" y2="803.40" stroke="#1c1cee" stroke-width="1.1" />
<line x1="466.48" y1="767.90" x2="466.48" y2="802.50" stroke="#1c1cee" stroke-width="1.1" />
<line x1="463.18" y1="767.90" x2="469.78" y2="767.90" stroke="#1c1cee" stroke-width="1.1" />
<line x1="463.18" y1="802.50" x2="469.78" y2="802.50" stroke="#1c1cee" stroke-width="1.1" />
<line x1="475.40" y1="767.80" x2="475.40" y2="801.00" stroke="#1c1cee" stroke-width="1.1" />
<line x1="472.10" y1="767.80" x2="478.70" y2="767.80" stroke="#1c1cee" stroke-width="1.1" />
<line x1="472.10" y1="801.00" x2="478.70" y2="801.00" stroke="#1c1cee" stroke-width="1.1" />
<line x1="484.33" y1="767.70" x2="484.33" y2="800.10" stroke="#1c1cee" stroke-width="1.1" />
<line x1="481.03" y1="767.70" x2="487.63" y2="767.70" stroke="#1c1cee" stroke-width="1.1" />
<line x1="481.03" y1="800.10" x2="487.63" y2="800.10" stroke="#1c1cee" stroke-width="1.1" />
<line x1="493.25" y1="767.80" x2="493.25" y2="799.40" stroke="#1c1cee" stroke-width="1.1" />
<line x1="489.95" y1="767.80" x2="496.55" y2="767.80" stroke="#1c1cee" stroke-width="1.1" />
<line x1="489.95" y1="799.40" x2="496.55" y2="799.40" stroke="#1c1cee" stroke-width="1.1" />
<line x1="502.18" y1="768.10" x2="502.18" y2="798.90" stroke="#1c1cee" stroke-width="1.1" />
<line x1="498.88" y1="768.10" x2="505.48" y2="768.10" stroke="#1c1cee" stroke-width="1.1" />
<line x1="498.88" y1="798.90" x2="505.48" y2="798.90" stroke="#1c1cee" stroke-width="1.1" />
<line x1="511.10" y1="768.50" x2="511.10" y2="798.50" stroke="#1c1cee" stroke-width="1.1" />
<line x1="507.80" y1="768.50" x2="514.40" y2="768.50" stroke="#1c1cee" stroke-width="1.1" />
<line x1="507.80" y1="798.50" x2="514.40" y2="798.50" stroke="#1c1cee" stroke-width="1.1" />
<circle cx="332.60" cy="831.50" r="3.5" fill="#1c1cee"/>
<circle cx="341.53" cy="831.30" r="3.5" fill="#1c1cee"/>
<circle cx="350.45" cy="830.80" r="3.5" fill="#1c1cee"/>
<circle cx="359.38" cy="829.60" r="3.5" fill="#1c1cee"/>
<circle cx="368.30" cy="824.90" r="3.5" fill="#1c1cee"/>
<circle cx="377.23" cy="819.10" r="3.5" fill="#1c1cee"/>
<circle cx="386.15" cy="812.50" r="3.5" fill="#1c1cee"/>
<circle cx="395.08" cy="807.30" r="3.5" fill="#1c1cee"/>
<circle cx="404.00" cy="801.50" r="3.5" fill="#1c1cee"/>
<circle cx="412.93" cy="797.30" r="3.5" fill="#1c1cee"/>
<circle cx="421.85" cy="793.60" r="3.5" fill="#1c1cee"/>
<circle cx="430.78" cy="792.10" r="3.5" fill="#1c1cee"/>
<circle cx="439.70" cy="788.40" r="3.5" fill="#1c1cee"/>
<circle cx="448.62" cy="786.80" r="3.5" fill="#1c1cee"/>
<circle cx="457.55" cy="785.70" r="3.5" fill="#1c1cee"/>
<circle cx="466.48" cy="785.20" r="3.5" fill="#1c1cee"/>
<circle cx="475.40" cy="784.40" r="3.5" fill="#1c1cee"/>
<circle cx="484.33" cy="783.90" r="3.5" fill="#1c1cee"/>
<circle cx="493.25" cy="783.60" r="3.5" fill="#1c1cee"/>
<circle cx="502.18" cy="783.50" r="3.5" fill="#1c1cee"/>
<circle cx="511.10" cy="783.50" r="3.5" fill="#1c1cee"/>
<path d="M516.5 700.5 H527.3 V784.6 H516.5" fill="none" stroke="#111" stroke-width="1.1"/>
<path d="M516.5 789.1 H527.3 V819.1 H516.5" fill="none" stroke="#111" stroke-width="1.1"/>
<path d="M571.3 699.9 H582.7 V814.0 H571.3" fill="none" stroke="#111" stroke-width="1.1"/>
<text x="535.00" y="747.20" font-size="12.4" fill="#141414">0.0030</text>
<text x="535.00" y="809.20" font-size="12.4" fill="#141414">0.042</text>
<text x="589.60" y="762.80" font-size="12.4" fill="#141414">&lt; 0.0001</text>
<line x1="321.40" y1="888.90" x2="345.20" y2="888.90" stroke="#fa2418" stroke-width="1.2" />
<path d="M333.30 885.00 L337.00 891.50 L329.60 891.50Z" fill="#fa2418"/>
<line x1="321.40" y1="911.50" x2="345.20" y2="911.50" stroke="#1c1cee" stroke-width="1.2" />
<circle cx="333.30" cy="911.50" r="3.5" fill="#1c1cee"/>
<line x1="452.70" y1="889.60" x2="476.60" y2="889.60" stroke="#f0606a" stroke-width="1.2" />
<path d="M464.65 893.20 L468.15 887.20 L461.15 887.20Z" fill="#f0606a"/>
<line x1="452.70" y1="912.40" x2="476.60" y2="912.40" stroke="#4a92f6" stroke-width="1.2" />
<rect x="461.15" y="908.90" width="7.0" height="7.0" fill="#4a92f6"/>
<text x="359.60" y="893.60" font-size="12.1" fill="#141414">Nedd9<tspan font-size="9.2" dy="-4.8">-/-</tspan><tspan dy="4.8" dx="7.0">n.t.</tspan></text>
<text x="359.60" y="916.20" font-size="12.1" fill="#141414">Nedd9<tspan font-size="9.2" dy="-4.8">wt/wt</tspan><tspan dy="4.8" dx="4.8">n.t.</tspan></text>
<text x="490.60" y="894.70" font-size="12.1" fill="#141414">Nedd9<tspan font-size="9.2" dy="-4.8">-/-</tspan><tspan dy="4.8" dx="4.8">chloro</tspan></text>
<text x="490.60" y="917.30" font-size="12.1" fill="#141414">Nedd9<tspan font-size="9.2" dy="-4.8" dx="4.2">wt/wt</tspan><tspan dy="4.8" dx="3.0">chloro</tspan></text>
</g>
</svg>
</body>
</html>
